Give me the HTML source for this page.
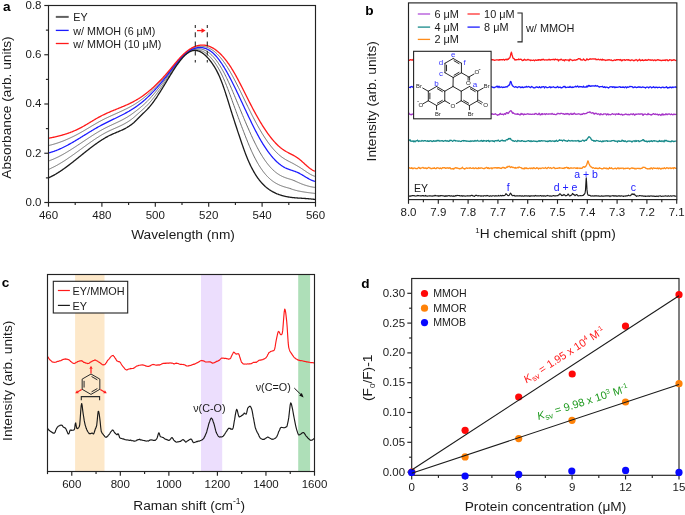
<!DOCTYPE html>
<html><head><meta charset="utf-8"><style>
html,body{margin:0;padding:0;background:#fff;width:685px;height:515px;overflow:hidden;}
svg{display:block;font-family:"Liberation Sans",sans-serif;will-change:transform;}
</style></head><body>
<svg width="685" height="515" viewBox="0 0 685 515">
<rect x="0" y="0" width="685" height="515" fill="#fff"/>
<path d="M48,169.73 L48.33,169.59 L48.67,169.44 L49,169.28 L49.33,169.13 L49.67,168.97 L50,168.8 L50.33,168.63 L50.67,168.46 L51,168.29 L51.33,168.11 L51.67,167.93 L52.17,167.71 L52.67,167.48 L53.17,167.25 L53.5,167.05 L54,166.81 L54.5,166.56 L55,166.31 L55.5,166.06 L55.83,165.85 L56.33,165.59 L56.83,165.32 L57.33,165.05 L57.83,164.78 L58.17,164.56 L58.67,164.28 L59.17,164 L59.67,163.71 L60.17,163.42 L60.67,163.12 L61.17,162.82 L61.5,162.59 L62,162.28 L62.5,161.97 L63,161.66 L63.5,161.35 L64,161.03 L64.5,160.72 L65,160.39 L65.5,160.07 L66,159.74 L66.5,159.41 L67,159.08 L67.33,158.82 L67.83,158.49 L68.33,158.15 L68.83,157.81 L69.33,157.46 L69.83,157.12 L70.33,156.77 L70.83,156.42 L71.33,156.07 L71.83,155.72 L72.33,155.37 L72.83,155.01 L73.33,154.66 L73.83,154.3 L74.33,153.94 L74.83,153.58 L75.33,153.22 L75.83,152.86 L76.33,152.5 L76.83,152.13 L77.33,151.77 L77.83,151.4 L78.33,151.04 L78.83,150.67 L79.33,150.31 L79.83,149.94 L80.33,149.57 L80.83,149.21 L81.5,148.74 L82,148.37 L82.5,148 L83,147.64 L83.5,147.27 L84,146.91 L84.5,146.54 L85,146.17 L85.5,145.81 L86,145.45 L86.5,145.08 L87,144.72 L87.5,144.36 L88,144 L88.5,143.64 L89,143.29 L89.5,142.93 L90,142.58 L90.67,142.12 L91.17,141.77 L91.67,141.42 L92.17,141.07 L92.67,140.72 L93.17,140.38 L93.67,140.04 L94.17,139.7 L94.67,139.36 L95.17,139.03 L95.67,138.69 L96.17,138.36 L96.67,138.04 L97.17,137.71 L97.83,137.29 L98.33,136.97 L98.83,136.65 L99.33,136.34 L99.83,136.03 L100.33,135.72 L100.83,135.42 L101.33,135.12 L101.83,134.82 L102.33,134.53 L102.83,134.24 L103.5,133.86 L104,133.58 L104.5,133.31 L105,133.03 L105.5,132.76 L106,132.5 L106.5,132.24 L107,131.98 L107.5,131.72 L108,131.48 L108.5,131.23 L109,130.99 L109.5,130.75 L110,130.52 L110.5,130.28 L111,130.05 L111.5,129.83 L112,129.6 L112.5,129.38 L113,129.15 L113.5,128.93 L114,128.71 L114.5,128.49 L115,128.27 L115.5,128.05 L116,127.83 L116.5,127.61 L117,127.39 L117.5,127.17 L118,126.94 L118.5,126.71 L119,126.49 L119.5,126.26 L120,126.02 L120.5,125.79 L121,125.55 L121.5,125.3 L122,125.06 L122.5,124.81 L123,124.55 L123.5,124.29 L124,124.03 L124.5,123.76 L125,123.48 L125.5,123.2 L126,122.92 L126.5,122.62 L127,122.32 L127.5,122.02 L128,121.7 L128.5,121.38 L129,121.05 L129.5,120.71 L130,120.37 L130.5,120.01 L131,119.65 L131.5,119.28 L132,118.89 L132.5,118.5 L133,118.1 L133.5,117.68 L134,117.26 L134.5,116.83 L135,116.4 L135.5,115.95 L136,115.51 L136.5,115.06 L137.17,114.51 L137.67,114.06 L138.17,113.61 L138.67,113.16 L139.17,112.72 L139.67,112.28 L140.17,111.84 L140.67,111.4 L141.17,110.95 L141.67,110.51 L142.17,110.06 L142.67,109.61 L143.17,109.16 L143.67,108.7 L144.17,108.24 L144.67,107.77 L145.17,107.29 L145.67,106.8 L146.17,106.31 L146.67,105.81 L147.17,105.29 L147.67,104.77 L148.17,104.23 L148.67,103.69 L149.17,103.13 L149.67,102.56 L150.17,101.98 L150.83,101.23 L151.33,100.63 L151.83,100.02 L152.33,99.4 L152.83,98.77 L153.33,98.13 L153.83,97.48 L154.5,96.66 L155,95.99 L155.5,95.32 L156,94.64 L156.5,93.96 L157.17,93.09 L157.67,92.39 L158.17,91.68 L158.67,90.97 L159.17,90.26 L159.83,89.35 L160.33,88.62 L160.83,87.89 L161.33,87.16 L161.83,86.42 L162.5,85.48 L163,84.74 L163.5,83.99 L164,83.24 L164.5,82.49 L165.17,81.53 L165.67,80.77 L166.17,80.02 L166.67,79.26 L167.17,78.5 L167.83,77.53 L168.33,76.78 L168.83,76.02 L169.33,75.26 L169.83,74.51 L170.33,73.75 L170.83,73 L171.5,72.04 L172,71.29 L172.5,70.55 L173,69.82 L173.5,69.09 L174,68.36 L174.5,67.64 L175,66.93 L175.67,66.01 L176.17,65.32 L176.67,64.63 L177.17,63.95 L177.67,63.28 L178.17,62.62 L178.67,61.97 L179.17,61.33 L179.67,60.71 L180.17,60.09 L180.67,59.49 L181.17,58.91 L181.67,58.33 L182.33,57.6 L182.83,57.06 L183.33,56.53 L183.83,56.03 L184.33,55.54 L184.83,55.06 L185.33,54.61 L185.83,54.17 L186.33,53.75 L186.83,53.35 L187.33,52.97 L187.83,52.61 L188.33,52.26 L188.83,51.94 L189.33,51.64 L189.83,51.36 L190.33,51.1 L190.83,50.87 L191.33,50.65 L191.83,50.46 L192.33,50.29 L192.83,50.14 L193.33,50.02 L193.83,49.91 L194.33,49.83 L194.83,49.77 L195.33,49.73 L195.83,49.71 L196.33,49.71 L196.83,49.73 L197.33,49.77 L197.83,49.84 L198.33,49.92 L198.83,50.02 L199.5,50.14 L200,50.28 L200.5,50.45 L201.17,50.65 L201.67,50.86 L202.33,51.12 L202.83,51.38 L203.5,51.69 L204.17,52.05 L204.67,52.37 L205.33,52.79 L206,53.24 L206.5,53.63 L207.17,54.14 L207.83,54.69 L208.33,55.15 L209,55.76 L209.5,56.27 L210.17,56.94 L210.67,57.49 L211.33,58.22 L211.83,58.82 L212.33,59.42 L212.83,60.05 L213.5,60.9 L214,61.56 L214.5,62.25 L215,62.96 L215.67,63.92 L216.17,64.68 L216.67,65.45 L217.17,66.25 L217.67,67.08 L218.33,68.18 L218.83,69.06 L219.33,69.96 L219.83,70.89 L220.33,71.84 L221,73.11 L221.5,74.12 L222,75.16 L222.5,76.23 L223.17,77.64 L223.67,78.77 L224.17,79.94 L224.83,81.45 L225.33,82.67 L225.83,83.92 L226.5,85.52 L227,86.82 L227.67,88.47 L228.17,89.81 L228.67,91.17 L229.33,92.89 L229.83,94.29 L230.5,96.04 L231,97.45 L231.67,99.23 L232.17,100.66 L232.67,102.09 L233.33,103.88 L233.83,105.31 L234.5,107.09 L235,108.52 L235.67,110.29 L236.17,111.71 L236.67,113.11 L237.33,114.87 L237.83,116.27 L238.33,117.66 L239,119.4 L239.5,120.78 L240,122.15 L240.67,123.87 L241.17,125.23 L241.67,126.59 L242.33,128.28 L242.83,129.62 L243.5,131.3 L244,132.63 L244.5,133.95 L245.17,135.59 L245.67,136.9 L246.17,138.2 L246.83,139.81 L247.33,141.09 L247.83,142.36 L248.5,143.92 L249,145.16 L249.5,146.38 L250.17,147.87 L250.67,149.05 L251.17,150.21 L251.67,151.35 L252.33,152.72 L252.83,153.81 L253.33,154.87 L253.83,155.91 L254.33,156.93 L255,158.17 L255.5,159.14 L256,160.08 L256.5,161.01 L257,161.92 L257.5,162.8 L258,163.67 L258.5,164.51 L259,165.34 L259.5,166.14 L260,166.92 L260.5,167.69 L261,168.43 L261.5,169.16 L262,169.87 L262.5,170.56 L263,171.23 L263.33,171.71 L263.83,172.35 L264.33,172.98 L264.83,173.58 L265.33,174.17 L265.67,174.59 L266.17,175.15 L266.67,175.69 L267.17,176.22 L267.5,176.59 L268,177.09 L268.5,177.57 L268.83,177.91 L269.33,178.37 L269.83,178.81 L270.17,179.12 L270.67,179.54 L271.17,179.95 L271.5,180.23 L272,180.61 L272.33,180.87 L272.83,181.23 L273.33,181.58 L273.67,181.82 L274.17,182.15 L274.5,182.37 L275,182.68 L275.33,182.89 L275.83,183.18 L276.17,183.37 L276.67,183.65 L277,183.83 L277.5,184.09 L277.83,184.26 L278.33,184.51 L278.67,184.67 L279.17,184.9 L279.5,185.05 L280,185.26 L280.5,185.47 L280.83,185.61 L281.33,185.81 L281.67,185.93 L282.17,186.12 L282.67,186.3 L283,186.41 L283.5,186.58 L284,186.74 L284.33,186.85 L284.83,187 L285.33,187.15 L285.83,187.29 L286.33,187.44 L286.83,187.57 L287.33,187.71 L287.83,187.84 L288.5,188.03 L289.17,188.22 L289.83,188.42 L291,188.87 L291.67,189.1 L292.33,189.35 L292.83,189.5 L293.33,189.65 L293.83,189.8 L294.33,189.95 L294.83,190.09 L295.33,190.24 L295.83,190.38 L296.17,190.42 L296.67,190.56 L297.17,190.7 L297.67,190.84 L298,190.87 L298.5,191 L299,191.13 L299.33,191.16 L299.83,191.28 L300.17,191.31 L300.67,191.43 L301.17,191.55 L301.5,191.57 L302,191.69 L302.33,191.71 L302.83,191.82 L303.17,191.84 L303.67,191.95 L304.17,192.05 L304.5,192.07 L305,192.17 L305.33,192.19 L305.83,192.29 L306.17,192.31 L306.67,192.4 L307,192.43 L307.5,192.52 L307.83,192.54 L308.33,192.63 L308.67,192.65 L309.17,192.73 L309.5,192.76 L309.83,192.78 L310.33,192.87 L310.67,192.89 L311.17,192.97 L311.5,193.01 L312,193.08 L312.33,193.12 L312.67,193.15 L313,193.19 L313.33,193.23 L313.67,193.27 L314,193.32 L314.33,193.36 L314.67,193.41 L315,193.46" fill="none" stroke="#6a6a6a" stroke-width="1.0" stroke-linejoin="round" />
<path d="M48,161.39 L48.17,161.32 L48.33,161.25 L48.5,161.17 L48.67,161.09 L48.83,161.01 L49,160.93 L49.17,160.85 L49.33,160.76 L49.5,160.67 L49.67,160.58 L49.83,160.49 L50.33,160.32 L50.83,160.15 L51.33,159.97 L51.5,159.87 L52,159.68 L52.5,159.49 L53,159.29 L53.5,159.09 L53.67,158.99 L54.17,158.78 L54.67,158.57 L55.17,158.35 L55.67,158.13 L55.83,158.02 L56.33,157.79 L56.83,157.56 L57.33,157.33 L57.83,157.09 L58.33,156.85 L58.83,156.6 L59,156.48 L59.5,156.23 L60,155.98 L60.5,155.72 L61,155.46 L61.5,155.2 L62,154.93 L62.5,154.66 L63,154.38 L63.5,154.1 L64,153.82 L64.5,153.54 L64.67,153.41 L65.17,153.12 L65.67,152.83 L66.17,152.54 L66.67,152.25 L67.17,151.95 L67.67,151.65 L68.17,151.35 L68.67,151.04 L69.17,150.74 L69.67,150.43 L70.17,150.12 L70.67,149.8 L71.17,149.49 L71.67,149.17 L72.17,148.85 L72.67,148.53 L73.17,148.21 L73.67,147.89 L74.17,147.57 L74.67,147.24 L75.17,146.91 L75.67,146.59 L76.17,146.26 L76.67,145.93 L77.17,145.6 L77.67,145.26 L78.17,144.93 L79,144.4 L79.5,144.07 L80,143.73 L80.5,143.4 L81,143.06 L81.5,142.72 L82,142.39 L82.5,142.05 L83,141.72 L83.5,141.38 L84,141.05 L84.5,140.71 L85,140.38 L85.5,140.04 L86,139.71 L86.5,139.37 L87,139.04 L87.5,138.71 L88.33,138.17 L88.83,137.84 L89.33,137.51 L89.83,137.19 L90.33,136.86 L90.83,136.53 L91.33,136.21 L91.83,135.89 L92.33,135.57 L92.83,135.25 L93.33,134.93 L93.83,134.61 L94.33,134.3 L94.83,133.99 L95.67,133.48 L96.17,133.17 L96.67,132.86 L97.17,132.56 L97.67,132.26 L98.17,131.96 L98.67,131.67 L99.17,131.37 L99.67,131.08 L100.17,130.8 L100.67,130.51 L101.5,130.05 L102,129.77 L102.5,129.49 L103,129.22 L103.5,128.96 L104,128.69 L104.5,128.43 L105,128.17 L105.5,127.91 L106,127.66 L106.5,127.41 L107,127.16 L107.5,126.92 L108,126.67 L108.5,126.43 L109,126.19 L109.5,125.96 L110,125.72 L110.5,125.49 L111,125.25 L111.5,125.02 L112,124.79 L112.5,124.56 L113,124.32 L113.5,124.09 L114,123.86 L114.5,123.63 L115,123.4 L115.5,123.17 L116,122.94 L116.5,122.7 L117,122.47 L117.5,122.23 L118,121.99 L118.5,121.75 L119,121.51 L119.5,121.27 L120,121.02 L120.5,120.78 L121,120.52 L121.5,120.27 L122,120.01 L122.5,119.75 L123,119.49 L123.5,119.22 L124,118.95 L124.5,118.68 L125,118.4 L125.5,118.12 L126,117.83 L126.5,117.54 L127,117.24 L127.5,116.94 L128,116.63 L128.5,116.31 L129,115.99 L129.5,115.67 L130,115.34 L130.5,115 L131,114.65 L131.5,114.3 L132,113.94 L132.5,113.58 L133,113.21 L133.5,112.83 L134,112.46 L134.5,112.08 L135.33,111.48 L135.83,111.09 L136.33,110.7 L136.83,110.31 L137.33,109.92 L137.83,109.53 L138.33,109.13 L138.83,108.74 L139.33,108.34 L139.83,107.93 L140.33,107.52 L140.83,107.11 L141.33,106.69 L141.83,106.27 L142.33,105.84 L142.83,105.41 L143.33,104.97 L143.83,104.52 L144.33,104.07 L144.83,103.61 L145.33,103.14 L145.83,102.66 L146.33,102.17 L146.83,101.68 L147.33,101.18 L147.83,100.67 L148.33,100.15 L149.17,99.31 L149.67,98.77 L150.17,98.23 L150.67,97.67 L151.17,97.11 L151.67,96.55 L152.17,95.98 L153,95.06 L153.5,94.47 L154,93.87 L154.5,93.27 L155,92.67 L155.83,91.7 L156.33,91.08 L156.83,90.45 L157.33,89.82 L157.83,89.19 L158.67,88.17 L159.17,87.53 L159.67,86.88 L160.17,86.22 L160.67,85.56 L161.5,84.51 L162,83.84 L162.5,83.17 L163,82.49 L163.5,81.82 L164.33,80.73 L164.83,80.04 L165.33,79.36 L165.83,78.67 L166.33,77.97 L167.17,76.86 L167.67,76.16 L168.17,75.46 L168.67,74.76 L169.17,74.06 L169.67,73.36 L170.17,72.66 L171,71.52 L171.5,70.82 L172,70.13 L172.5,69.43 L173,68.74 L173.5,68.05 L174,67.37 L174.5,66.69 L175.33,65.59 L175.83,64.92 L176.33,64.26 L176.83,63.61 L177.33,62.97 L177.83,62.33 L178.33,61.71 L178.83,61.09 L179.33,60.48 L179.83,59.89 L180.33,59.3 L180.83,58.73 L181.33,58.17 L182.17,57.28 L182.67,56.75 L183.17,56.24 L183.67,55.74 L184.17,55.26 L184.67,54.8 L185.17,54.35 L185.67,53.92 L186.17,53.5 L186.67,53.1 L187.17,52.72 L187.67,52.36 L188.17,52.01 L188.67,51.68 L189.17,51.36 L189.67,51.07 L190.17,50.79 L190.67,50.53 L191.17,50.29 L191.67,50.06 L192.17,49.86 L192.67,49.67 L193.17,49.5 L193.67,49.35 L194.17,49.22 L194.67,49.1 L195.17,49.01 L195.67,48.93 L196.17,48.87 L196.67,48.82 L197.17,48.8 L197.67,48.79 L198.17,48.79 L198.67,48.82 L199.5,48.85 L200,48.92 L200.5,49 L201.33,49.13 L201.83,49.26 L202.67,49.47 L203.17,49.65 L204,49.93 L204.83,50.26 L205.33,50.51 L206.17,50.93 L207,51.39 L207.5,51.72 L208.33,52.27 L209.17,52.88 L209.67,53.28 L210.5,53.98 L211,54.43 L211.83,55.21 L212.33,55.72 L213.17,56.59 L213.67,57.15 L214.17,57.73 L214.67,58.33 L215.5,59.35 L216,60 L216.5,60.66 L217,61.34 L217.83,62.51 L218.33,63.24 L218.83,63.99 L219.33,64.76 L219.83,65.54 L220.67,66.87 L221.17,67.71 L221.67,68.57 L222.17,69.44 L222.67,70.34 L223.5,71.83 L224,72.77 L224.5,73.73 L225,74.72 L225.83,76.33 L226.33,77.36 L226.83,78.41 L227.67,80.12 L228.17,81.21 L228.67,82.32 L229.5,84.11 L230,85.26 L230.83,87.09 L231.33,88.27 L231.83,89.47 L232.67,91.36 L233.17,92.57 L234,94.5 L234.5,95.73 L235.33,97.68 L235.83,98.92 L236.33,100.17 L237.17,102.13 L237.67,103.38 L238.5,105.35 L239,106.6 L239.83,108.56 L240.33,109.8 L240.83,111.04 L241.67,112.99 L242.17,114.22 L242.67,115.45 L243.5,117.38 L244,118.6 L244.5,119.81 L245.33,121.72 L245.83,122.92 L246.33,124.11 L247.17,125.98 L247.67,127.16 L248.5,129.01 L249,130.17 L249.5,131.33 L250.33,133.12 L250.83,134.26 L251.33,135.39 L252.17,137.14 L252.67,138.24 L253.17,139.34 L254,141.01 L254.5,142.08 L255,143.12 L255.83,144.72 L256.33,145.73 L256.83,146.72 L257.33,147.7 L258.17,149.18 L258.67,150.12 L259.17,151.03 L259.67,151.93 L260.17,152.81 L261,154.15 L261.5,154.99 L262,155.81 L262.5,156.62 L263,157.4 L263.5,158.18 L264,158.93 L264.5,159.67 L265,160.39 L265.5,161.1 L266,161.79 L266.5,162.46 L267,163.12 L267.5,163.76 L268,164.39 L268.5,165 L269,165.6 L269.17,165.84 L269.67,166.41 L270.17,166.97 L270.67,167.52 L271.17,168.05 L271.33,168.26 L271.83,168.77 L272.33,169.26 L272.83,169.74 L273,169.92 L273.5,170.38 L274,170.83 L274.17,171 L274.67,171.42 L275.17,171.84 L275.33,171.99 L275.83,172.38 L276.33,172.76 L276.5,172.9 L277,173.27 L277.17,173.4 L277.67,173.74 L278.17,174.07 L278.33,174.19 L278.83,174.51 L279,174.62 L279.5,174.92 L279.67,175.02 L280.17,175.31 L280.33,175.4 L280.83,175.67 L281,175.76 L281.5,176.02 L281.67,176.1 L282.17,176.34 L282.33,176.42 L282.83,176.65 L283,176.73 L283.5,176.94 L284,177.15 L284.17,177.22 L284.67,177.42 L284.83,177.48 L285.33,177.67 L285.83,177.85 L286,177.9 L286.5,178.08 L287,178.25 L287.17,178.3 L287.67,178.46 L288.17,178.62 L288.67,178.77 L289.17,178.92 L289.67,179.08 L290.17,179.23 L290.67,179.38 L291.5,179.64 L292.33,179.92 L293.17,180.22 L295,181.01 L295.83,181.39 L296.67,181.79 L297.17,182.01 L297.67,182.23 L298.17,182.45 L298.67,182.68 L299.17,182.9 L299.67,183.12 L300.17,183.35 L300.33,183.37 L300.83,183.59 L301.33,183.81 L301.83,184.03 L302,184.04 L302.5,184.26 L303,184.47 L303.17,184.48 L303.67,184.69 L303.83,184.71 L304.33,184.91 L304.83,185.11 L305,185.12 L305.5,185.31 L305.67,185.32 L306.17,185.51 L306.33,185.52 L306.83,185.71 L307.33,185.88 L307.5,185.89 L308,186.06 L308.17,186.07 L308.67,186.23 L308.83,186.24 L309.33,186.4 L309.5,186.41 L310,186.56 L310.17,186.57 L310.67,186.71 L310.83,186.72 L311.33,186.85 L311.5,186.86 L311.67,186.87 L312.17,187 L312.33,187.01 L312.83,187.12 L313,187.14 L313.5,187.24 L313.67,187.26 L313.83,187.28 L314,187.3 L314.17,187.32 L314.33,187.34 L314.5,187.36 L314.67,187.38 L314.83,187.41 L315,187.43" fill="none" stroke="#6a6a6a" stroke-width="1.0" stroke-linejoin="round" />
<path d="M48,145.7 L48.25,145.64 L48.5,145.58 L48.75,145.51 L49,145.45 L49.25,145.38 L49.75,145.26 L50.25,145.14 L50.75,145.01 L51.25,144.88 L51.75,144.75 L52.25,144.62 L52.5,144.53 L53,144.39 L53.5,144.25 L54,144.11 L54.5,143.96 L55,143.81 L55.5,143.66 L56,143.5 L56.5,143.34 L57,143.18 L57.5,143.02 L58,142.85 L58.5,142.68 L59,142.51 L59.5,142.33 L60,142.15 L60.5,141.97 L61,141.79 L61.5,141.6 L62,141.42 L62.5,141.22 L63,141.03 L63.5,140.83 L64,140.63 L64.5,140.43 L65,140.23 L65.5,140.02 L65.75,139.89 L66.25,139.68 L66.75,139.46 L67.25,139.25 L67.75,139.03 L68.25,138.81 L68.75,138.59 L69.25,138.36 L69.75,138.13 L70.25,137.9 L70.75,137.67 L71.25,137.43 L71.75,137.2 L72.25,136.96 L72.75,136.71 L73.25,136.47 L73.75,136.22 L74.25,135.97 L74.75,135.72 L75.25,135.47 L75.75,135.21 L76.25,134.95 L76.75,134.69 L77.25,134.43 L77.75,134.16 L78.25,133.89 L78.75,133.62 L79.25,133.35 L79.75,133.08 L80,132.92 L80.5,132.65 L81,132.37 L81.5,132.09 L82,131.8 L82.5,131.52 L83,131.23 L83.5,130.94 L84,130.65 L84.5,130.36 L85,130.07 L85.5,129.77 L86,129.48 L86.5,129.18 L87,128.88 L87.5,128.58 L88,128.28 L88.5,127.98 L89,127.68 L89.5,127.38 L90,127.08 L90.5,126.78 L91,126.48 L91.5,126.18 L92,125.88 L92.5,125.58 L93,125.29 L93.5,124.99 L94,124.69 L94.5,124.4 L95,124.11 L95.5,123.81 L96,123.52 L96.5,123.24 L97,122.95 L97.5,122.66 L98,122.38 L98.5,122.1 L99,121.82 L99.5,121.55 L100,121.28 L100.5,121 L101,120.74 L101.5,120.47 L102,120.21 L102.5,119.95 L103,119.69 L103.5,119.44 L104.25,119.06 L104.75,118.81 L105.25,118.56 L105.75,118.32 L106.25,118.08 L106.75,117.84 L107.25,117.6 L107.75,117.36 L108.25,117.13 L108.75,116.89 L109.25,116.66 L109.75,116.43 L110.25,116.2 L111,115.86 L111.5,115.63 L112,115.41 L112.5,115.18 L113,114.96 L113.5,114.73 L114,114.51 L114.5,114.28 L115,114.06 L115.5,113.84 L116,113.61 L116.5,113.39 L117,113.16 L117.5,112.94 L118,112.71 L118.5,112.49 L119,112.26 L119.5,112.03 L120,111.81 L120.5,111.58 L121,111.35 L121.5,111.12 L122,110.89 L122.5,110.65 L123,110.42 L123.5,110.18 L124,109.94 L124.75,109.59 L125.25,109.35 L125.75,109.1 L126.25,108.86 L126.75,108.61 L127.25,108.35 L127.75,108.1 L128.25,107.84 L128.75,107.58 L129.25,107.32 L129.75,107.05 L130.25,106.78 L130.75,106.51 L131.25,106.23 L131.75,105.95 L132.25,105.66 L132.75,105.38 L133.25,105.08 L133.75,104.79 L134.25,104.49 L134.75,104.18 L135.25,103.88 L135.75,103.56 L136.25,103.25 L136.75,102.92 L137.25,102.6 L137.75,102.27 L138.25,101.93 L138.75,101.59 L139.25,101.24 L139.75,100.89 L140.25,100.53 L140.75,100.17 L141.25,99.8 L141.75,99.43 L142.25,99.05 L142.75,98.66 L143.25,98.27 L143.75,97.88 L144.25,97.48 L144.75,97.07 L145.25,96.66 L145.75,96.25 L146.25,95.83 L146.75,95.4 L147.25,94.97 L147.75,94.53 L148.25,94.09 L148.75,93.64 L149.5,92.99 L150,92.53 L150.5,92.07 L151,91.6 L151.5,91.13 L152,90.65 L152.5,90.17 L153,89.68 L153.5,89.19 L154,88.69 L154.5,88.19 L155,87.69 L155.5,87.17 L156,86.66 L156.5,86.14 L157,85.62 L157.5,85.09 L158.25,84.31 L158.75,83.77 L159.25,83.23 L159.75,82.68 L160.25,82.13 L160.75,81.57 L161.25,81.01 L161.75,80.45 L162.25,79.88 L162.75,79.31 L163.25,78.73 L163.75,78.15 L164.25,77.56 L164.75,76.97 L165.25,76.38 L166,75.5 L166.5,74.9 L167,74.29 L167.5,73.68 L168,73.07 L168.5,72.45 L169,71.83 L169.5,71.21 L170,70.58 L170.5,69.95 L171,69.33 L171.5,68.7 L172,68.07 L172.5,67.44 L173,66.81 L173.5,66.19 L174,65.57 L174.5,64.95 L175,64.33 L175.5,63.71 L176.25,62.81 L176.75,62.21 L177.25,61.61 L177.75,61.02 L178.25,60.44 L178.75,59.86 L179.25,59.29 L179.75,58.73 L180.25,58.18 L180.75,57.64 L181.25,57.11 L181.75,56.59 L182.25,56.08 L182.75,55.58 L183.25,55.09 L183.75,54.62 L184.25,54.16 L184.75,53.71 L185.25,53.27 L185.75,52.85 L186.25,52.44 L186.75,52.04 L187.25,51.66 L187.75,51.29 L188.25,50.93 L188.75,50.59 L189.25,50.26 L189.75,49.94 L190.25,49.64 L190.75,49.35 L191.25,49.07 L191.75,48.8 L192.25,48.55 L192.75,48.32 L193.25,48.09 L193.75,47.88 L194.25,47.68 L194.75,47.5 L195.25,47.33 L195.75,47.17 L196.25,47.03 L196.75,46.9 L197.25,46.79 L197.75,46.69 L198.25,46.6 L198.75,46.52 L199.25,46.46 L199.75,46.42 L200.25,46.38 L201,46.34 L201.5,46.35 L202,46.36 L202.5,46.39 L203,46.44 L203.5,46.5 L204.25,46.6 L204.75,46.7 L205.25,46.81 L205.75,46.94 L206.25,47.08 L207,47.31 L207.5,47.49 L208,47.68 L208.5,47.89 L209.25,48.22 L209.75,48.47 L210.25,48.74 L210.75,49.02 L211.5,49.45 L212,49.77 L212.5,50.11 L213,50.46 L213.75,51 L214.25,51.39 L214.75,51.8 L215.25,52.23 L215.75,52.67 L216.5,53.34 L217,53.82 L217.5,54.32 L218,54.84 L218.75,55.62 L219.25,56.17 L219.75,56.74 L220.25,57.33 L220.75,57.93 L221.5,58.83 L222,59.47 L222.5,60.12 L223,60.79 L223.5,61.47 L224.25,62.49 L224.75,63.21 L225.25,63.94 L225.75,64.69 L226.25,65.45 L226.75,66.22 L227.5,67.38 L228,68.19 L228.5,69.01 L229,69.84 L229.5,70.68 L230,71.54 L230.5,72.41 L231,73.29 L231.75,74.61 L232.25,75.52 L232.75,76.43 L233.25,77.36 L233.75,78.3 L234.25,79.24 L234.75,80.19 L235.25,81.15 L235.75,82.12 L236.25,83.1 L236.75,84.08 L237.25,85.07 L237.75,86.06 L238.5,87.55 L239,88.56 L239.5,89.57 L240,90.58 L240.5,91.6 L241,92.62 L241.5,93.65 L242,94.68 L242.5,95.71 L243,96.74 L243.5,97.77 L244,98.8 L244.5,99.83 L245,100.86 L245.5,101.9 L246,102.93 L246.5,103.96 L247,104.98 L247.75,106.5 L248.25,107.52 L248.75,108.53 L249.25,109.55 L249.75,110.55 L250.25,111.56 L250.75,112.56 L251.25,113.55 L251.75,114.54 L252.25,115.53 L252.75,116.5 L253.25,117.48 L254,118.88 L254.5,119.84 L255,120.79 L255.5,121.73 L256,122.66 L256.5,123.59 L257,124.51 L257.5,125.42 L258,126.33 L258.5,127.22 L259.25,128.51 L259.75,129.38 L260.25,130.24 L260.75,131.1 L261.25,131.95 L261.75,132.78 L262.25,133.61 L262.75,134.43 L263.25,135.23 L264,136.38 L264.5,137.16 L265,137.93 L265.5,138.68 L266,139.43 L266.5,140.17 L267,140.89 L267.5,141.61 L268,142.31 L268.5,143 L269,143.68 L269.5,144.35 L270,145 L270.5,145.65 L271,146.28 L271.5,146.9 L272,147.51 L272.5,148.11 L273,148.7 L273.5,149.27 L274,149.83 L274.5,150.38 L275,150.92 L275.5,151.44 L276,151.96 L276.5,152.46 L277,152.94 L277.5,153.42 L278,153.88 L278.25,154.15 L278.75,154.59 L279.25,155.02 L279.75,155.44 L280.25,155.85 L280.75,156.24 L281,156.47 L281.5,156.85 L282,157.21 L282.5,157.57 L283,157.91 L283.5,158.25 L284,158.57 L284.5,158.89 L285,159.2 L285.25,159.37 L285.75,159.66 L286.25,159.95 L286.75,160.23 L287.25,160.5 L288,160.89 L288.5,161.15 L289,161.41 L289.5,161.66 L290,161.91 L290.75,162.3 L291.25,162.55 L291.75,162.79 L292.5,163.2 L293,163.46 L293.5,163.72 L294.25,164.17 L294.75,164.44 L295.25,164.72 L295.75,165.01 L296.25,165.3 L296.75,165.59 L297.25,165.89 L297.75,166.2 L298.25,166.51 L298.5,166.59 L299,166.91 L299.5,167.23 L300,167.55 L300.25,167.65 L300.75,167.98 L301.25,168.32 L301.75,168.66 L302,168.78 L302.5,169.13 L303,169.48 L303.5,169.83 L303.75,169.97 L304.25,170.33 L304.75,170.68 L305.25,171.03 L305.5,171.18 L306,171.53 L306.5,171.88 L307,172.22 L307.25,172.37 L307.75,172.7 L308.25,173.03 L308.5,173.18 L309,173.49 L309.5,173.79 L310,174.09 L310.25,174.23 L310.75,174.5 L311,174.64 L311.5,174.9 L312,175.14 L312.25,175.27 L312.75,175.49 L313,175.6 L313.5,175.8 L313.75,175.9 L314,175.99 L314.25,176.08 L314.5,176.16 L314.75,176.24 L315,176.3" fill="none" stroke="#6a6a6a" stroke-width="1.0" stroke-linejoin="round" />
<path d="M48,153.06 L48.5,152.94 L49,152.81 L49.5,152.69 L50,152.55 L50.5,152.41 L51,152.27 L51.5,152.12 L52,151.97 L52.5,151.81 L53,151.65 L53.5,151.48 L54,151.31 L54.5,151.13 L55,150.95 L55.5,150.77 L56,150.58 L56.5,150.38 L57,150.19 L57.5,149.98 L58,149.78 L58.5,149.57 L59,149.36 L59.5,149.14 L60,148.92 L60.5,148.69 L61,148.47 L61.5,148.23 L62,148 L62.5,147.76 L63,147.52 L63.5,147.28 L64,147.03 L64.5,146.78 L65,146.52 L65.5,146.27 L66,146.01 L66.5,145.75 L67,145.48 L67.5,145.22 L68,144.95 L68.5,144.67 L69,144.4 L69.5,144.12 L70,143.85 L70.5,143.57 L71,143.28 L71.5,143 L72,142.71 L72.5,142.42 L73,142.13 L73.5,141.84 L74,141.55 L74.5,141.25 L75,140.96 L75.5,140.66 L76,140.36 L76.5,140.06 L77,139.76 L77.5,139.46 L78,139.15 L78.5,138.85 L79,138.54 L79.5,138.24 L80,137.93 L80.5,137.62 L81,137.32 L81.5,137.01 L82,136.7 L82.5,136.39 L83,136.08 L83.5,135.77 L84,135.46 L84.5,135.15 L85,134.85 L85.5,134.54 L86,134.23 L86.5,133.92 L87,133.61 L87.5,133.3 L88,132.99 L88.5,132.69 L89,132.38 L89.5,132.08 L90,131.77 L90.5,131.47 L91,131.16 L91.5,130.86 L92,130.56 L92.5,130.26 L93,129.96 L93.5,129.67 L94,129.37 L94.5,129.08 L95,128.78 L95.5,128.49 L96,128.2 L96.5,127.91 L97,127.63 L97.5,127.34 L98,127.06 L98.5,126.78 L99,126.5 L99.5,126.23 L100,125.95 L100.5,125.68 L101,125.42 L101.5,125.15 L102,124.88 L102.5,124.62 L103,124.36 L103.5,124.1 L104,123.84 L104.5,123.59 L105,123.34 L105.5,123.08 L106,122.83 L106.5,122.58 L107,122.33 L107.5,122.09 L108,121.84 L108.5,121.59 L109,121.35 L109.5,121.11 L110,120.86 L110.5,120.62 L111,120.38 L111.5,120.14 L112,119.89 L112.5,119.65 L113,119.41 L113.5,119.17 L114,118.93 L114.5,118.69 L115,118.45 L115.5,118.21 L116,117.96 L116.5,117.72 L117,117.48 L117.5,117.23 L118,116.99 L118.5,116.74 L119,116.5 L119.5,116.25 L120,116 L120.5,115.75 L121,115.5 L121.5,115.25 L122,114.99 L122.5,114.74 L123,114.48 L123.5,114.22 L124,113.96 L124.5,113.69 L125,113.43 L125.5,113.16 L126,112.89 L126.5,112.62 L127,112.34 L127.5,112.06 L128,111.78 L128.5,111.49 L129,111.21 L129.5,110.91 L130,110.62 L130.5,110.32 L131,110.02 L131.5,109.71 L132,109.4 L132.5,109.09 L133,108.77 L133.5,108.45 L134,108.13 L134.5,107.8 L135,107.46 L135.5,107.12 L136,106.78 L136.5,106.43 L137,106.08 L137.5,105.72 L138,105.35 L138.5,104.98 L139,104.61 L139.5,104.23 L140,103.84 L140.5,103.45 L141,103.05 L141.5,102.65 L142,102.24 L142.5,101.83 L143,101.41 L143.5,100.98 L144,100.55 L144.5,100.11 L145,99.67 L145.5,99.22 L146,98.77 L146.5,98.31 L147,97.85 L147.5,97.38 L148,96.91 L148.5,96.43 L149,95.95 L149.5,95.46 L150,94.97 L150.5,94.47 L151,93.96 L151.5,93.46 L152,92.94 L152.5,92.43 L153,91.9 L153.5,91.38 L154,90.85 L154.5,90.31 L155,89.77 L155.5,89.23 L156,88.68 L156.5,88.12 L157,87.56 L157.5,87 L158,86.43 L158.5,85.86 L159,85.29 L159.5,84.71 L160,84.12 L160.5,83.54 L161,82.95 L161.5,82.35 L162,81.75 L162.5,81.15 L163,80.54 L163.5,79.93 L164,79.31 L164.5,78.7 L165,78.07 L165.5,77.45 L166,76.82 L166.5,76.18 L167,75.55 L167.5,74.91 L168,74.26 L168.5,73.62 L169,72.97 L169.5,72.32 L170,71.66 L170.5,71.01 L171,70.35 L171.5,69.7 L172,69.04 L172.5,68.39 L173,67.74 L173.5,67.09 L174,66.44 L174.5,65.8 L175,65.16 L175.5,64.52 L176,63.9 L176.5,63.27 L177,62.65 L177.5,62.04 L178,61.44 L178.5,60.85 L179,60.26 L179.5,59.68 L180,59.11 L180.5,58.56 L181,58.01 L181.5,57.48 L182,56.95 L182.5,56.44 L183,55.94 L183.5,55.46 L184,54.99 L184.5,54.54 L185,54.1 L185.5,53.67 L186,53.26 L186.5,52.86 L187,52.47 L187.5,52.11 L188,51.75 L188.5,51.41 L189,51.08 L189.5,50.77 L190,50.47 L190.5,50.19 L191,49.92 L191.5,49.67 L192,49.43 L192.5,49.2 L193,48.99 L193.5,48.79 L194,48.61 L194.5,48.44 L195,48.29 L195.5,48.15 L196,48.02 L196.5,47.91 L197,47.82 L197.5,47.74 L198,47.67 L198.5,47.62 L199,47.58 L199.5,47.56 L200,47.55 L200.5,47.56 L201,47.58 L201.5,47.61 L202,47.66 L202.5,47.73 L203,47.82 L203.5,47.91 L204,48.03 L204.5,48.16 L205,48.31 L205.5,48.47 L206,48.65 L206.5,48.85 L207,49.06 L207.5,49.3 L208,49.55 L208.5,49.81 L209,50.1 L209.5,50.4 L210,50.72 L210.5,51.06 L211,51.42 L211.5,51.79 L212,52.19 L212.5,52.6 L213,53.03 L213.5,53.49 L214,53.96 L214.5,54.45 L215,54.96 L215.5,55.49 L216,56.04 L216.5,56.61 L217,57.2 L217.5,57.8 L218,58.43 L218.5,59.07 L219,59.72 L219.5,60.4 L220,61.09 L220.5,61.8 L221,62.52 L221.5,63.26 L222,64.01 L222.5,64.78 L223,65.56 L223.5,66.36 L224,67.17 L224.5,67.99 L225,68.83 L225.5,69.68 L226,70.54 L226.5,71.42 L227,72.3 L227.5,73.2 L228,74.1 L228.5,75.02 L229,75.95 L229.5,76.89 L230,77.84 L230.5,78.79 L231,79.76 L231.5,80.73 L232,81.71 L232.5,82.7 L233,83.7 L233.5,84.7 L234,85.72 L234.5,86.73 L235,87.76 L235.5,88.79 L236,89.82 L236.5,90.86 L237,91.91 L237.5,92.95 L238,94.01 L238.5,95.06 L239,96.12 L239.5,97.18 L240,98.25 L240.5,99.32 L241,100.39 L241.5,101.46 L242,102.53 L242.5,103.6 L243,104.67 L243.5,105.75 L244,106.82 L244.5,107.89 L245,108.97 L245.5,110.04 L246,111.11 L246.5,112.17 L247,113.24 L247.5,114.3 L248,115.36 L248.5,116.42 L249,117.47 L249.5,118.52 L250,119.56 L250.5,120.6 L251,121.63 L251.5,122.66 L252,123.69 L252.5,124.7 L253,125.71 L253.5,126.72 L254,127.71 L254.5,128.7 L255,129.68 L255.5,130.66 L256,131.62 L256.5,132.58 L257,133.53 L257.5,134.46 L258,135.39 L258.5,136.31 L259,137.21 L259.5,138.11 L260,138.99 L260.5,139.87 L261,140.73 L261.5,141.58 L262,142.41 L262.5,143.24 L263,144.05 L263.5,144.86 L264,145.65 L264.5,146.42 L265,147.19 L265.5,147.95 L266,148.69 L266.5,149.42 L267,150.14 L267.5,150.84 L268,151.54 L268.5,152.22 L269,152.89 L269.5,153.55 L270,154.19 L270.5,154.83 L271,155.45 L271.5,156.06 L272,156.65 L272.5,157.24 L273,157.81 L273.5,158.37 L274,158.91 L274.5,159.45 L275,159.97 L275.5,160.48 L276,160.97 L276.5,161.46 L277,161.93 L277.5,162.38 L278,162.83 L278.5,163.26 L279,163.68 L279.5,164.09 L280,164.48 L280.5,164.86 L281,165.23 L281.5,165.58 L282,165.92 L282.5,166.25 L283,166.57 L283.5,166.87 L284,167.16 L284.5,167.43 L285,167.7 L285.5,167.94 L286,168.18 L286.5,168.41 L287,168.62 L287.5,168.83 L288,169.03 L288.5,169.21 L289,169.4 L289.5,169.58 L290,169.75 L290.5,169.92 L291,170.08 L291.5,170.25 L292,170.41 L292.5,170.58 L293,170.74 L293.5,170.91 L294,171.08 L294.5,171.25 L295,171.43 L295.5,171.62 L296,171.81 L296.5,172.01 L297,172.22 L297.5,172.44 L298,172.67 L298.5,172.91 L299,173.16 L299.5,173.41 L300,173.68 L300.5,173.96 L301,174.24 L301.5,174.52 L302,174.81 L302.5,175.11 L303,175.41 L303.5,175.71 L304,176.01 L304.5,176.31 L305,176.62 L305.5,176.92 L306,177.22 L306.5,177.52 L307,177.81 L307.5,178.1 L308,178.39 L308.5,178.67 L309,178.94 L309.5,179.2 L310,179.46 L310.5,179.71 L311,179.95 L311.5,180.18 L312,180.39 L312.5,180.6 L313,180.79 L313.5,180.96 L314,181.12 L314.5,181.27 L315,181.4" fill="none" stroke="#1a1aff" stroke-width="1.25" stroke-linejoin="round" />
<path d="M48,178.07 L48.5,177.85 L49,177.63 L49.5,177.4 L50,177.16 L50.5,176.92 L51,176.68 L51.5,176.42 L52,176.17 L52.5,175.91 L53,175.64 L53.5,175.37 L54,175.09 L54.5,174.81 L55,174.52 L55.5,174.23 L56,173.94 L56.5,173.64 L57,173.34 L57.5,173.03 L58,172.72 L58.5,172.4 L59,172.08 L59.5,171.76 L60,171.43 L60.5,171.1 L61,170.76 L61.5,170.43 L62,170.09 L62.5,169.74 L63,169.39 L63.5,169.04 L64,168.69 L64.5,168.33 L65,167.97 L65.5,167.61 L66,167.24 L66.5,166.87 L67,166.5 L67.5,166.13 L68,165.76 L68.5,165.38 L69,165 L69.5,164.62 L70,164.23 L70.5,163.85 L71,163.46 L71.5,163.07 L72,162.68 L72.5,162.29 L73,161.9 L73.5,161.5 L74,161.11 L74.5,160.71 L75,160.31 L75.5,159.91 L76,159.51 L76.5,159.11 L77,158.71 L77.5,158.31 L78,157.91 L78.5,157.51 L79,157.1 L79.5,156.7 L80,156.3 L80.5,155.89 L81,155.49 L81.5,155.09 L82,154.69 L82.5,154.28 L83,153.88 L83.5,153.48 L84,153.08 L84.5,152.68 L85,152.28 L85.5,151.88 L86,151.48 L86.5,151.09 L87,150.69 L87.5,150.3 L88,149.9 L88.5,149.51 L89,149.12 L89.5,148.73 L90,148.35 L90.5,147.96 L91,147.58 L91.5,147.2 L92,146.82 L92.5,146.44 L93,146.07 L93.5,145.69 L94,145.32 L94.5,144.95 L95,144.59 L95.5,144.23 L96,143.87 L96.5,143.51 L97,143.16 L97.5,142.81 L98,142.46 L98.5,142.11 L99,141.77 L99.5,141.44 L100,141.1 L100.5,140.77 L101,140.44 L101.5,140.12 L102,139.8 L102.5,139.49 L103,139.18 L103.5,138.87 L104,138.57 L104.5,138.27 L105,137.97 L105.5,137.68 L106,137.4 L106.5,137.12 L107,136.84 L107.5,136.57 L108,136.3 L108.5,136.04 L109,135.79 L109.5,135.54 L110,135.29 L110.5,135.05 L111,134.82 L111.5,134.58 L112,134.36 L112.5,134.13 L113,133.91 L113.5,133.7 L114,133.48 L114.5,133.27 L115,133.06 L115.5,132.85 L116,132.64 L116.5,132.43 L117,132.22 L117.5,132.01 L118,131.8 L118.5,131.59 L119,131.38 L119.5,131.16 L120,130.95 L120.5,130.73 L121,130.51 L121.5,130.28 L122,130.05 L122.5,129.82 L123,129.58 L123.5,129.34 L124,129.09 L124.5,128.84 L125,128.58 L125.5,128.32 L126,128.04 L126.5,127.76 L127,127.48 L127.5,127.18 L128,126.88 L128.5,126.57 L129,126.25 L129.5,125.91 L130,125.57 L130.5,125.22 L131,124.86 L131.5,124.49 L132,124.11 L132.5,123.71 L133,123.3 L133.5,122.88 L134,122.45 L134.5,122 L135,121.54 L135.5,121.07 L136,120.58 L136.5,120.09 L137,119.58 L137.5,119.08 L138,118.56 L138.5,118.05 L139,117.53 L139.5,117.02 L140,116.52 L140.5,116.01 L141,115.52 L141.5,115.03 L142,114.54 L142.5,114.06 L143,113.57 L143.5,113.09 L144,112.61 L144.5,112.12 L145,111.63 L145.5,111.13 L146,110.63 L146.5,110.13 L147,109.61 L147.5,109.09 L148,108.55 L148.5,108.01 L149,107.45 L149.5,106.88 L150,106.3 L150.5,105.7 L151,105.08 L151.5,104.45 L152,103.81 L152.5,103.16 L153,102.49 L153.5,101.81 L154,101.12 L154.5,100.42 L155,99.71 L155.5,98.99 L156,98.26 L156.5,97.52 L157,96.77 L157.5,96.01 L158,95.25 L158.5,94.47 L159,93.7 L159.5,92.91 L160,92.12 L160.5,91.32 L161,90.52 L161.5,89.71 L162,88.9 L162.5,88.09 L163,87.27 L163.5,86.45 L164,85.63 L164.5,84.81 L165,83.98 L165.5,83.16 L166,82.33 L166.5,81.5 L167,80.68 L167.5,79.85 L168,79.03 L168.5,78.21 L169,77.39 L169.5,76.57 L170,75.76 L170.5,74.95 L171,74.15 L171.5,73.35 L172,72.55 L172.5,71.76 L173,70.98 L173.5,70.21 L174,69.44 L174.5,68.67 L175,67.92 L175.5,67.18 L176,66.44 L176.5,65.71 L177,64.99 L177.5,64.29 L178,63.59 L178.5,62.91 L179,62.24 L179.5,61.58 L180,60.93 L180.5,60.3 L181,59.68 L181.5,59.08 L182,58.49 L182.5,57.92 L183,57.37 L183.5,56.83 L184,56.31 L184.5,55.81 L185,55.33 L185.5,54.86 L186,54.42 L186.5,54 L187,53.6 L187.5,53.22 L188,52.86 L188.5,52.52 L189,52.21 L189.5,51.92 L190,51.66 L190.5,51.42 L191,51.21 L191.5,51.02 L192,50.86 L192.5,50.72 L193,50.61 L193.5,50.53 L194,50.47 L194.5,50.44 L195,50.43 L195.5,50.44 L196,50.48 L196.5,50.55 L197,50.64 L197.5,50.75 L198,50.88 L198.5,51.04 L199,51.22 L199.5,51.43 L200,51.65 L200.5,51.9 L201,52.17 L201.5,52.46 L202,52.77 L202.5,53.11 L203,53.46 L203.5,53.84 L204,54.23 L204.5,54.65 L205,55.08 L205.5,55.54 L206,56.01 L206.5,56.51 L207,57.02 L207.5,57.55 L208,58.1 L208.5,58.67 L209,59.25 L209.5,59.86 L210,60.48 L210.5,61.12 L211,61.77 L211.5,62.44 L212,63.13 L212.5,63.85 L213,64.58 L213.5,65.34 L214,66.11 L214.5,66.92 L215,67.75 L215.5,68.61 L216,69.49 L216.5,70.41 L217,71.36 L217.5,72.34 L218,73.35 L218.5,74.39 L219,75.48 L219.5,76.6 L220,77.75 L220.5,78.95 L221,80.18 L221.5,81.46 L222,82.77 L222.5,84.12 L223,85.51 L223.5,86.93 L224,88.37 L224.5,89.85 L225,91.35 L225.5,92.88 L226,94.43 L226.5,96 L227,97.58 L227.5,99.18 L228,100.78 L228.5,102.39 L229,104.01 L229.5,105.62 L230,107.23 L230.5,108.84 L231,110.44 L231.5,112.03 L232,113.61 L232.5,115.19 L233,116.75 L233.5,118.32 L234,119.87 L234.5,121.42 L235,122.96 L235.5,124.5 L236,126.03 L236.5,127.55 L237,129.07 L237.5,130.58 L238,132.09 L238.5,133.59 L239,135.08 L239.5,136.57 L240,138.06 L240.5,139.54 L241,141.02 L241.5,142.49 L242,143.95 L242.5,145.39 L243,146.83 L243.5,148.24 L244,149.64 L244.5,151.02 L245,152.37 L245.5,153.69 L246,154.99 L246.5,156.26 L247,157.5 L247.5,158.71 L248,159.89 L248.5,161.05 L249,162.18 L249.5,163.28 L250,164.36 L250.5,165.41 L251,166.43 L251.5,167.43 L252,168.4 L252.5,169.35 L253,170.28 L253.5,171.18 L254,172.06 L254.5,172.91 L255,173.75 L255.5,174.56 L256,175.35 L256.5,176.11 L257,176.86 L257.5,177.59 L258,178.29 L258.5,178.98 L259,179.64 L259.5,180.29 L260,180.92 L260.5,181.53 L261,182.12 L261.5,182.69 L262,183.25 L262.5,183.79 L263,184.31 L263.5,184.82 L264,185.31 L264.5,185.79 L265,186.25 L265.5,186.7 L266,187.13 L266.5,187.55 L267,187.95 L267.5,188.34 L268,188.72 L268.5,189.09 L269,189.45 L269.5,189.79 L270,190.12 L270.5,190.44 L271,190.75 L271.5,191.05 L272,191.34 L272.5,191.63 L273,191.9 L273.5,192.16 L274,192.42 L274.5,192.67 L275,192.91 L275.5,193.14 L276,193.37 L276.5,193.58 L277,193.8 L277.5,194 L278,194.2 L278.5,194.39 L279,194.57 L279.5,194.75 L280,194.92 L280.5,195.08 L281,195.24 L281.5,195.39 L282,195.54 L282.5,195.68 L283,195.82 L283.5,195.95 L284,196.07 L284.5,196.19 L285,196.31 L285.5,196.42 L286,196.52 L286.5,196.62 L287,196.72 L287.5,196.81 L288,196.9 L288.5,196.99 L289,197.07 L289.5,197.14 L290,197.22 L290.5,197.29 L291,197.35 L291.5,197.42 L292,197.48 L292.5,197.54 L293,197.59 L293.5,197.65 L294,197.7 L294.5,197.74 L295,197.79 L295.5,197.83 L296,197.88 L296.5,197.92 L297,197.95 L297.5,197.99 L298,198.03 L298.5,198.06 L299,198.1 L299.5,198.13 L300,198.16 L300.5,198.19 L301,198.22 L301.5,198.26 L302,198.29 L302.5,198.32 L303,198.35 L303.5,198.38 L304,198.41 L304.5,198.44 L305,198.48 L305.5,198.51 L306,198.54 L306.5,198.58 L307,198.62 L307.5,198.66 L308,198.7 L308.5,198.74 L309,198.78 L309.5,198.83 L310,198.87 L310.5,198.92 L311,198.97 L311.5,199.03 L312,199.09 L312.5,199.15 L313,199.21 L313.5,199.27 L314,199.34 L314.5,199.42 L315,199.49" fill="none" stroke="#1a1a1a" stroke-width="1.3" stroke-linejoin="round" />
<path d="M48,138.34 L48.5,138.24 L49,138.15 L49.5,138.05 L50,137.96 L50.5,137.86 L51,137.76 L51.5,137.65 L52,137.55 L52.5,137.45 L53,137.34 L53.5,137.24 L54,137.13 L54.5,137.02 L55,136.91 L55.5,136.79 L56,136.68 L56.5,136.56 L57,136.44 L57.5,136.32 L58,136.2 L58.5,136.07 L59,135.95 L59.5,135.82 L60,135.69 L60.5,135.56 L61,135.42 L61.5,135.28 L62,135.14 L62.5,135 L63,134.86 L63.5,134.71 L64,134.56 L64.5,134.41 L65,134.25 L65.5,134.1 L66,133.94 L66.5,133.77 L67,133.61 L67.5,133.44 L68,133.27 L68.5,133.09 L69,132.92 L69.5,132.74 L70,132.55 L70.5,132.37 L71,132.18 L71.5,131.98 L72,131.79 L72.5,131.59 L73,131.38 L73.5,131.18 L74,130.96 L74.5,130.75 L75,130.53 L75.5,130.31 L76,130.09 L76.5,129.86 L77,129.62 L77.5,129.39 L78,129.15 L78.5,128.9 L79,128.65 L79.5,128.4 L80,128.14 L80.5,127.88 L81,127.62 L81.5,127.35 L82,127.08 L82.5,126.8 L83,126.52 L83.5,126.24 L84,125.96 L84.5,125.67 L85,125.38 L85.5,125.09 L86,124.79 L86.5,124.5 L87,124.2 L87.5,123.9 L88,123.6 L88.5,123.3 L89,123 L89.5,122.7 L90,122.4 L90.5,122.09 L91,121.79 L91.5,121.49 L92,121.19 L92.5,120.89 L93,120.58 L93.5,120.28 L94,119.99 L94.5,119.69 L95,119.39 L95.5,119.1 L96,118.81 L96.5,118.52 L97,118.23 L97.5,117.95 L98,117.67 L98.5,117.39 L99,117.11 L99.5,116.84 L100,116.57 L100.5,116.31 L101,116.05 L101.5,115.79 L102,115.54 L102.5,115.29 L103,115.04 L103.5,114.8 L104,114.55 L104.5,114.32 L105,114.08 L105.5,113.85 L106,113.62 L106.5,113.39 L107,113.17 L107.5,112.94 L108,112.72 L108.5,112.5 L109,112.29 L109.5,112.07 L110,111.86 L110.5,111.64 L111,111.43 L111.5,111.22 L112,111.02 L112.5,110.81 L113,110.6 L113.5,110.4 L114,110.19 L114.5,109.99 L115,109.79 L115.5,109.58 L116,109.38 L116.5,109.18 L117,108.98 L117.5,108.77 L118,108.57 L118.5,108.37 L119,108.16 L119.5,107.96 L120,107.76 L120.5,107.55 L121,107.35 L121.5,107.14 L122,106.93 L122.5,106.72 L123,106.51 L123.5,106.3 L124,106.09 L124.5,105.87 L125,105.65 L125.5,105.44 L126,105.21 L126.5,104.99 L127,104.77 L127.5,104.54 L128,104.31 L128.5,104.08 L129,103.84 L129.5,103.61 L130,103.36 L130.5,103.12 L131,102.87 L131.5,102.62 L132,102.37 L132.5,102.12 L133,101.85 L133.5,101.59 L134,101.32 L134.5,101.05 L135,100.78 L135.5,100.5 L136,100.21 L136.5,99.92 L137,99.63 L137.5,99.33 L138,99.03 L138.5,98.73 L139,98.41 L139.5,98.1 L140,97.77 L140.5,97.45 L141,97.11 L141.5,96.78 L142,96.43 L142.5,96.09 L143,95.73 L143.5,95.37 L144,95.01 L144.5,94.64 L145,94.27 L145.5,93.89 L146,93.51 L146.5,93.12 L147,92.72 L147.5,92.32 L148,91.92 L148.5,91.51 L149,91.1 L149.5,90.68 L150,90.26 L150.5,89.83 L151,89.39 L151.5,88.96 L152,88.51 L152.5,88.07 L153,87.61 L153.5,87.16 L154,86.69 L154.5,86.23 L155,85.76 L155.5,85.28 L156,84.8 L156.5,84.32 L157,83.83 L157.5,83.33 L158,82.83 L158.5,82.33 L159,81.82 L159.5,81.31 L160,80.79 L160.5,80.27 L161,79.75 L161.5,79.22 L162,78.68 L162.5,78.14 L163,77.6 L163.5,77.05 L164,76.5 L164.5,75.94 L165,75.38 L165.5,74.82 L166,74.25 L166.5,73.68 L167,73.1 L167.5,72.52 L168,71.93 L168.5,71.34 L169,70.75 L169.5,70.15 L170,69.56 L170.5,68.95 L171,68.35 L171.5,67.75 L172,67.14 L172.5,66.54 L173,65.94 L173.5,65.33 L174,64.73 L174.5,64.13 L175,63.53 L175.5,62.94 L176,62.35 L176.5,61.76 L177,61.18 L177.5,60.6 L178,60.03 L178.5,59.46 L179,58.9 L179.5,58.35 L180,57.81 L180.5,57.27 L181,56.74 L181.5,56.22 L182,55.71 L182.5,55.21 L183,54.72 L183.5,54.24 L184,53.77 L184.5,53.32 L185,52.87 L185.5,52.44 L186,52.02 L186.5,51.61 L187,51.21 L187.5,50.83 L188,50.46 L188.5,50.09 L189,49.75 L189.5,49.41 L190,49.08 L190.5,48.77 L191,48.47 L191.5,48.18 L192,47.91 L192.5,47.64 L193,47.39 L193.5,47.15 L194,46.93 L194.5,46.71 L195,46.51 L195.5,46.32 L196,46.15 L196.5,45.99 L197,45.84 L197.5,45.7 L198,45.58 L198.5,45.47 L199,45.37 L199.5,45.28 L200,45.21 L200.5,45.15 L201,45.11 L201.5,45.08 L202,45.06 L202.5,45.06 L203,45.07 L203.5,45.09 L204,45.12 L204.5,45.17 L205,45.24 L205.5,45.32 L206,45.41 L206.5,45.51 L207,45.63 L207.5,45.76 L208,45.91 L208.5,46.07 L209,46.24 L209.5,46.43 L210,46.63 L210.5,46.85 L211,47.08 L211.5,47.32 L212,47.58 L212.5,47.85 L213,48.13 L213.5,48.43 L214,48.74 L214.5,49.06 L215,49.4 L215.5,49.75 L216,50.12 L216.5,50.5 L217,50.9 L217.5,51.3 L218,51.72 L218.5,52.16 L219,52.61 L219.5,53.07 L220,53.55 L220.5,54.03 L221,54.54 L221.5,55.05 L222,55.59 L222.5,56.13 L223,56.69 L223.5,57.26 L224,57.84 L224.5,58.44 L225,59.06 L225.5,59.68 L226,60.32 L226.5,60.98 L227,61.64 L227.5,62.32 L228,63.02 L228.5,63.72 L229,64.45 L229.5,65.18 L230,65.93 L230.5,66.69 L231,67.47 L231.5,68.26 L232,69.06 L232.5,69.88 L233,70.71 L233.5,71.55 L234,72.4 L234.5,73.27 L235,74.14 L235.5,75.03 L236,75.93 L236.5,76.83 L237,77.75 L237.5,78.67 L238,79.6 L238.5,80.54 L239,81.49 L239.5,82.44 L240,83.4 L240.5,84.37 L241,85.34 L241.5,86.31 L242,87.29 L242.5,88.28 L243,89.26 L243.5,90.25 L244,91.24 L244.5,92.24 L245,93.23 L245.5,94.23 L246,95.22 L246.5,96.22 L247,97.21 L247.5,98.21 L248,99.2 L248.5,100.19 L249,101.18 L249.5,102.17 L250,103.15 L250.5,104.12 L251,105.1 L251.5,106.07 L252,107.03 L252.5,107.99 L253,108.94 L253.5,109.88 L254,110.82 L254.5,111.75 L255,112.67 L255.5,113.58 L256,114.49 L256.5,115.39 L257,116.28 L257.5,117.17 L258,118.05 L258.5,118.91 L259,119.77 L259.5,120.63 L260,121.47 L260.5,122.31 L261,123.13 L261.5,123.95 L262,124.76 L262.5,125.56 L263,126.35 L263.5,127.14 L264,127.91 L264.5,128.68 L265,129.43 L265.5,130.18 L266,130.91 L266.5,131.64 L267,132.36 L267.5,133.06 L268,133.76 L268.5,134.45 L269,135.13 L269.5,135.79 L270,136.45 L270.5,137.1 L271,137.73 L271.5,138.36 L272,138.97 L272.5,139.57 L273,140.17 L273.5,140.75 L274,141.32 L274.5,141.88 L275,142.43 L275.5,142.96 L276,143.49 L276.5,144 L277,144.5 L277.5,144.99 L278,145.47 L278.5,145.94 L279,146.39 L279.5,146.83 L280,147.26 L280.5,147.68 L281,148.08 L281.5,148.47 L282,148.85 L282.5,149.22 L283,149.57 L283.5,149.91 L284,150.24 L284.5,150.56 L285,150.87 L285.5,151.16 L286,151.45 L286.5,151.74 L287,152.01 L287.5,152.28 L288,152.55 L288.5,152.81 L289,153.07 L289.5,153.33 L290,153.58 L290.5,153.84 L291,154.1 L291.5,154.35 L292,154.61 L292.5,154.87 L293,155.14 L293.5,155.41 L294,155.69 L294.5,155.97 L295,156.26 L295.5,156.56 L296,156.87 L296.5,157.19 L297,157.52 L297.5,157.86 L298,158.22 L298.5,158.59 L299,158.97 L299.5,159.36 L300,159.77 L300.5,160.19 L301,160.61 L301.5,161.05 L302,161.49 L302.5,161.93 L303,162.38 L303.5,162.84 L304,163.29 L304.5,163.74 L305,164.2 L305.5,164.65 L306,165.1 L306.5,165.54 L307,165.98 L307.5,166.41 L308,166.84 L308.5,167.25 L309,167.65 L309.5,168.05 L310,168.42 L310.5,168.79 L311,169.13 L311.5,169.46 L312,169.78 L312.5,170.07 L313,170.34 L313.5,170.59 L314,170.82 L314.5,171.02 L315,171.2" fill="none" stroke="#ff1a1a" stroke-width="1.3" stroke-linejoin="round" />
<rect x="48.5" y="5.5" width="267.0" height="197.0" fill="none" stroke="#222" stroke-width="1.15"/>
<line x1="48.5" y1="202.5" x2="48.5" y2="206.7" stroke="#222" stroke-width="1.15" />
<text x="48.5" y="218.7" font-size="11.5" text-anchor="middle" fill="#1a1a1a" >460</text>
<line x1="101.9" y1="202.5" x2="101.9" y2="206.7" stroke="#222" stroke-width="1.15" />
<text x="101.9" y="218.7" font-size="11.5" text-anchor="middle" fill="#1a1a1a" >480</text>
<line x1="155.3" y1="202.5" x2="155.3" y2="206.7" stroke="#222" stroke-width="1.15" />
<text x="155.3" y="218.7" font-size="11.5" text-anchor="middle" fill="#1a1a1a" >500</text>
<line x1="208.7" y1="202.5" x2="208.7" y2="206.7" stroke="#222" stroke-width="1.15" />
<text x="208.7" y="218.7" font-size="11.5" text-anchor="middle" fill="#1a1a1a" >520</text>
<line x1="262.1" y1="202.5" x2="262.1" y2="206.7" stroke="#222" stroke-width="1.15" />
<text x="262.1" y="218.7" font-size="11.5" text-anchor="middle" fill="#1a1a1a" >540</text>
<line x1="315.5" y1="202.5" x2="315.5" y2="206.7" stroke="#222" stroke-width="1.15" />
<text x="315.5" y="218.7" font-size="11.5" text-anchor="middle" fill="#1a1a1a" >560</text>
<line x1="75.2" y1="202.5" x2="75.2" y2="205.1" stroke="#222" stroke-width="1.15" />
<line x1="128.6" y1="202.5" x2="128.6" y2="205.1" stroke="#222" stroke-width="1.15" />
<line x1="182" y1="202.5" x2="182" y2="205.1" stroke="#222" stroke-width="1.15" />
<line x1="235.4" y1="202.5" x2="235.4" y2="205.1" stroke="#222" stroke-width="1.15" />
<line x1="288.8" y1="202.5" x2="288.8" y2="205.1" stroke="#222" stroke-width="1.15" />
<line x1="44.3" y1="202.5" x2="48.5" y2="202.5" stroke="#222" stroke-width="1.15" />
<text x="41.5" y="205.9" font-size="11.5" text-anchor="end" fill="#1a1a1a" >0.0</text>
<line x1="44.3" y1="153.25" x2="48.5" y2="153.25" stroke="#222" stroke-width="1.15" />
<text x="41.5" y="156.65" font-size="11.5" text-anchor="end" fill="#1a1a1a" >0.2</text>
<line x1="44.3" y1="104" x2="48.5" y2="104" stroke="#222" stroke-width="1.15" />
<text x="41.5" y="107.4" font-size="11.5" text-anchor="end" fill="#1a1a1a" >0.4</text>
<line x1="44.3" y1="54.75" x2="48.5" y2="54.75" stroke="#222" stroke-width="1.15" />
<text x="41.5" y="58.15" font-size="11.5" text-anchor="end" fill="#1a1a1a" >0.6</text>
<line x1="44.3" y1="5.5" x2="48.5" y2="5.5" stroke="#222" stroke-width="1.15" />
<text x="41.5" y="8.9" font-size="11.5" text-anchor="end" fill="#1a1a1a" >0.8</text>
<line x1="45.9" y1="177.88" x2="48.5" y2="177.88" stroke="#222" stroke-width="1.15" />
<line x1="45.9" y1="128.62" x2="48.5" y2="128.62" stroke="#222" stroke-width="1.15" />
<line x1="45.9" y1="79.38" x2="48.5" y2="79.38" stroke="#222" stroke-width="1.15" />
<line x1="45.9" y1="30.13" x2="48.5" y2="30.13" stroke="#222" stroke-width="1.15" />
<text x="183" y="238.9" font-size="13.7" text-anchor="middle" fill="#1a1a1a" >Wavelength (nm)</text>
<text x="0" y="0" font-size="13.7" text-anchor="middle" fill="#1a1a1a" transform="translate(10.9,107.5) rotate(-90)">Absorbance (arb. units)</text>
<text x="3" y="11.3" font-size="13.6" text-anchor="start" fill="#000" font-weight="bold">a</text>
<line x1="55.8" y1="16.9" x2="68.7" y2="16.9" stroke="#606060" stroke-width="2.0" />
<text x="73.3" y="21" font-size="10.75" text-anchor="start" fill="#1a1a1a" >EY</text>
<line x1="55.8" y1="30.4" x2="68.7" y2="30.4" stroke="#1a1aff" stroke-width="1.3" />
<text x="73.3" y="34.5" font-size="10.75" text-anchor="start" fill="#1a1a1a" >w/ MMOH (6 μM)</text>
<line x1="55.8" y1="43.5" x2="68.7" y2="43.5" stroke="#ff1a1a" stroke-width="1.3" />
<text x="73.3" y="47.6" font-size="10.75" text-anchor="start" fill="#1a1a1a" >w/ MMOH (10 μM)</text>
<line x1="195.3" y1="24.9" x2="195.3" y2="62.6" stroke="#2a2a2a" stroke-width="1.1" stroke-dasharray="4.9,4.3" stroke-dashoffset="1.8"/>
<line x1="207.3" y1="24.9" x2="207.3" y2="62.6" stroke="#2a2a2a" stroke-width="1.1" stroke-dasharray="4.9,4.3" stroke-dashoffset="1.8"/>
<line x1="197" y1="30.6" x2="202.5" y2="30.6" stroke="#ff1a1a" stroke-width="1.3" />
<path d="M201.5,28.3 L205.6,30.6 L201.5,32.9 Z" fill="#ff1a1a"/>
<path d="M408.5,60.01 L409,60.47 L409.5,60.39 L410,59.79 L410.5,59.72 L411,59.74 L411.5,60.06 L412,59.98 L412.5,60.02 L413,59.43 L413.5,60.31 L414,60.04 L414.5,60.12 L415,59.88 L415.5,59.8 L416,60.1 L416.5,60.21 L417,59.89 L417.5,59.89 L418,60.07 L418.5,59.54 L419,59.34 L419.5,59.88 L420,59.56 L420.5,59.13 L421,59.45 L421.5,59.6 L422,59.35 L422.5,59.3 L423,59.88 L423.5,60.21 L424,59.84 L424.5,59.67 L425,60.05 L425.5,60.17 L426,59.91 L426.5,60.16 L427,60.31 L427.5,59.86 L428,59.64 L428.5,60 L429,60.11 L429.5,60.23 L430,59.5 L430.5,59.53 L431,59.45 L431.5,59.26 L432,59.88 L432.5,60.06 L433,59.81 L433.5,60.42 L434,60.36 L434.5,60.24 L435,60.18 L435.5,60.19 L436,59.58 L436.5,60.09 L437,60.05 L437.5,59.38 L438,59.9 L438.5,59.93 L439,60.15 L439.5,59.83 L440,59.92 L440.5,59.98 L441,59.7 L441.5,60.07 L442,59.98 L442.5,60.06 L443,59.87 L443.5,60.32 L444,60.21 L444.5,59.97 L445,60.24 L445.5,60.56 L446,60.54 L446.5,59.59 L447,60.16 L447.5,60.16 L448,59.87 L448.5,59.67 L449,60.21 L449.5,59.64 L450,60.14 L450.5,60.32 L451,59.46 L451.5,59.62 L452,59.48 L452.5,60.04 L453,60.64 L453.5,60.63 L454,59.43 L454.5,59.66 L455,60.27 L455.5,60.58 L456,60.16 L456.5,59.74 L457,59.99 L457.5,59.95 L458,59.82 L458.5,59.71 L459,60.05 L459.5,60.08 L460,59.92 L460.5,59.77 L461,59.45 L461.5,59.78 L462,60.32 L462.5,59.87 L463,59.53 L463.5,60.35 L464,60.4 L464.5,60.74 L465,60.1 L465.5,59.69 L466,59.51 L466.5,60.5 L467,60.89 L467.5,59.81 L468,59.71 L468.5,60.06 L469,59.69 L469.5,59.77 L470,59.83 L470.5,60.08 L471,60.36 L471.5,60.12 L472,60.25 L472.5,59.91 L473,59.88 L473.5,59.13 L474,59.35 L474.5,60.09 L475,59.86 L475.5,60.16 L476,60.3 L476.5,60.53 L477,60.42 L477.5,60.37 L478,59.95 L478.5,59.66 L479,59.62 L479.5,59.65 L480,59.49 L480.5,59.68 L481,59.91 L481.5,60.02 L482,59.72 L482.5,59.26 L483,59.81 L483.5,60.12 L484,60.41 L484.5,60.2 L485,59.73 L485.5,59.82 L486,60.67 L486.5,60.52 L487,60.82 L487.5,60.79 L488,59.87 L488.5,60.07 L489,60.2 L489.5,60.24 L490,60.21 L490.5,60.09 L491,59.93 L491.5,59.44 L492,59.74 L492.5,59.7 L493,59.91 L493.5,59.85 L494,60.2 L494.5,60.31 L495,60.15 L495.5,60.09 L496,59.97 L496.5,59.79 L497,59.82 L497.5,59.79 L498,60.04 L498.5,60.02 L499,60.04 L499.5,59.58 L500,60.08 L500.5,59.66 L501,59.58 L501.5,59.74 L502,59.71 L502.5,59.9 L503,59.61 L503.5,59.38 L504,59.56 L504.5,60.21 L505,59.81 L505.5,59.35 L506,59.5 L506.5,59.24 L507,59.96 L507.5,59.09 L508,59.39 L508.5,59.17 L509,58.23 L509.5,58.12 L510,57.38 L510.5,55.39 L511,53.03 L511.06,52.98 L511.31,52.1 L511.5,52.57 L511.56,52.65 L512,54.71 L512.5,56.39 L513,58.02 L513.5,58.36 L514,58.59 L514.5,59.42 L515,60.11 L515.5,59.97 L516,59.57 L516.5,59.87 L517,59.63 L517.5,59.71 L518,59.66 L518.5,59.05 L519,59.67 L519.5,59.48 L520,59.46 L520.5,59.22 L521,59.2 L521.5,59.53 L522,60.27 L522.5,60.57 L523,60.13 L523.5,60.3 L524,59.79 L524.5,59.27 L525,59.89 L525.5,60.09 L526,59.86 L526.5,60.07 L527,60.12 L527.5,59.59 L528,59.36 L528.5,59.76 L529,59.84 L529.5,59.9 L530,60.41 L530.5,60.61 L531,60 L531.5,60.24 L532,60.39 L532.5,60.36 L533,60.35 L533.5,59.95 L534,60.34 L534.5,60.78 L535,60.34 L535.5,59.84 L536,60.21 L536.5,60.46 L537,60.12 L537.5,59.88 L538,60.33 L538.5,59.64 L539,60 L539.5,59.86 L540,59.58 L540.5,60.27 L541,60.02 L541.5,59.55 L542,59.97 L542.5,59.62 L543,59.11 L543.5,59.48 L544,59.92 L544.5,60.07 L545,59.92 L545.5,59.85 L546,59.93 L546.5,59.81 L547,60.15 L547.5,59.89 L548,59.86 L548.5,59.82 L549,59.29 L549.5,59.45 L550,60.16 L550.5,59.85 L551,59.59 L551.5,59.7 L552,59.52 L552.5,59.66 L553,59.46 L553.5,59.59 L554,59.25 L554.5,60 L555,59.51 L555.5,59.12 L556,59.52 L556.5,59.63 L557,59.72 L557.5,59.43 L558,60.13 L558.5,61.03 L559,59.69 L559.5,59.85 L560,59.79 L560.5,59.78 L561,59.18 L561.5,59.39 L562,59.97 L562.5,60.05 L563,60.43 L563.5,59.81 L564,60.15 L564.5,60.91 L565,59.82 L565.5,59.56 L566,59.86 L566.5,59.99 L567,60.25 L567.5,60 L568,59.71 L568.5,60.16 L569,60.98 L569.5,60.38 L570,59.06 L570.5,59.62 L571,59.67 L571.5,60.07 L572,60.06 L572.5,60.65 L573,60.44 L573.5,60.29 L574,60 L574.5,59.87 L575,60.02 L575.5,60.28 L576,59.94 L576.5,59.59 L577,59.85 L577.5,59.37 L578,58.94 L578.5,58.63 L579,58.8 L579.5,58.83 L580,58.53 L580.5,59.79 L581,59.93 L581.5,59.77 L582,60.13 L582.5,60.02 L583,59.75 L583.5,58.91 L584,59.54 L584.5,60.04 L585,60.48 L585.5,60.58 L586,60.24 L586.5,59.19 L587,58.8 L587.5,59.6 L588,59.64 L588.5,59.78 L589,59.43 L589.5,59.26 L590,58.75 L590.5,59.14 L591,58.94 L591.5,59.08 L592,59.05 L592.5,58.83 L593,58.89 L593.5,58.86 L594,59.12 L594.5,59.07 L595,58.76 L595.5,58.93 L596,59.7 L596.5,59.41 L597,59.7 L597.5,59.58 L598,59.26 L598.5,59.25 L599,59.61 L599.5,59.8 L600,59.84 L600.5,59.3 L601,59.47 L601.5,59.85 L602,60.21 L602.5,59.18 L603,59.81 L603.5,59.77 L604,59.99 L604.5,59.82 L605,60.15 L605.5,60.56 L606,60.24 L606.5,60.18 L607,60.09 L607.5,59.8 L608,60.12 L608.5,59.92 L609,59.71 L609.5,59.93 L610,60 L610.5,60.28 L611,60.04 L611.5,59.97 L612,60.59 L612.5,60.6 L613,60.62 L613.5,60.36 L614,60.04 L614.5,59.89 L615,60.01 L615.5,60.39 L616,60.08 L616.5,59.57 L617,59.85 L617.5,59.6 L618,59.95 L618.5,59.58 L619,59.57 L619.5,60.03 L620,59.95 L620.5,59.56 L621,60.4 L621.5,60.8 L622,59.88 L622.5,60.58 L623,59.96 L623.5,59.87 L624,59.9 L624.5,59.69 L625,60.49 L625.5,60.33 L626,59.87 L626.5,59.85 L627,59.54 L627.5,59.95 L628,60.29 L628.5,59.56 L629,59.85 L629.5,60.22 L630,60.6 L630.5,60.64 L631,60.01 L631.5,59.87 L632,60.2 L632.5,60.01 L633,60.08 L633.5,60.61 L634,60.82 L634.5,60.34 L635,60.13 L635.5,60.18 L636,59.52 L636.5,59.91 L637,59.94 L637.5,60.95 L638,60.58 L638.5,60.23 L639,59.9 L639.5,59.3 L640,60.33 L640.5,60.71 L641,60.06 L641.5,60.38 L642,60.33 L642.5,59.73 L643,60.46 L643.5,60.71 L644,60.33 L644.5,60.2 L645,60.31 L645.5,59.68 L646,60.15 L646.5,60.44 L647,59.87 L647.5,60.38 L648,59.93 L648.5,59.39 L649,59.89 L649.5,59.83 L650,60.11 L650.5,59.85 L651,60.38 L651.5,60.01 L652,60.19 L652.5,59.96 L653,60.09 L653.5,60.57 L654,60.3 L654.5,59.95 L655,59.79 L655.5,60.53 L656,60.49 L656.5,60.13 L657,60.15 L657.5,59.75 L658,59.68 L658.5,59.83 L659,60.26 L659.5,60.25 L660,59.99 L660.5,60.43 L661,60.52 L661.5,60.37 L662,60.53 L662.5,60.14 L663,60.15 L663.5,60.33 L664,60.26 L664.5,60.36 L665,59.91 L665.5,60.53 L666,60 L666.5,59.96 L667,59.73 L667.5,60.38 L668,60.75 L668.5,60.72 L669,60.44 L669.5,59.64 L670,59.76 L670.5,59.9 L671,59.91 L671.5,60.52 L672,60.34 L672.5,60.23 L673,60.29 L673.5,59.83 L674,59.74 L674.5,59.85 L675,60.33 L675.5,60.39 L676,60.5 L676.5,60.61" fill="none" stroke="#ff1a1a" stroke-width="1.3" stroke-linejoin="round" />
<path d="M408.5,87.07 L409,87.42 L409.5,87.39 L410,87.43 L410.5,87.53 L411,86.65 L411.5,86.59 L412,86.48 L412.5,86.94 L413,87.34 L413.5,87.11 L414,87.03 L414.5,86.38 L415,86.85 L415.5,86.83 L416,87.63 L416.5,87.52 L417,87.4 L417.5,87.11 L418,87.27 L418.5,87.26 L419,86.9 L419.5,86.8 L420,86.89 L420.5,86.75 L421,86.74 L421.5,86.81 L422,86.79 L422.5,87.11 L423,86.57 L423.5,87.14 L424,86.82 L424.5,86.68 L425,86.49 L425.5,86.85 L426,86.93 L426.5,87.03 L427,86.85 L427.5,87.15 L428,87.69 L428.5,87.26 L429,86.92 L429.5,87.3 L430,87.09 L430.5,87.27 L431,87.25 L431.5,86.79 L432,86.29 L432.5,86.8 L433,87.16 L433.5,86.97 L434,87.22 L434.5,87.36 L435,87 L435.5,87.54 L436,87.77 L436.5,87.62 L437,87.6 L437.5,87.67 L438,87.92 L438.5,87.27 L439,87.09 L439.5,87.18 L440,86.64 L440.5,86.36 L441,86.64 L441.5,87.13 L442,87.11 L442.5,86.39 L443,86.24 L443.5,86.77 L444,86.94 L444.5,87.06 L445,87.36 L445.5,87.54 L446,87.26 L446.5,87.19 L447,86.61 L447.5,86.56 L448,87.09 L448.5,87.35 L449,87.39 L449.5,87.36 L450,87.42 L450.5,87.25 L451,86.44 L451.5,86.69 L452,87.19 L452.5,87.18 L453,86.65 L453.5,87.31 L454,86.96 L454.5,86.95 L455,87.18 L455.5,87.22 L456,86.68 L456.5,87.29 L457,87.09 L457.5,86.77 L458,86.73 L458.5,86.22 L459,86.68 L459.5,87.01 L460,86.79 L460.5,86.87 L461,86.98 L461.5,87.14 L462,87.41 L462.5,87.1 L463,87 L463.5,87.38 L464,87.8 L464.5,87.13 L465,87.09 L465.5,86.65 L466,87.46 L466.5,87.49 L467,87.57 L467.5,87.06 L468,86.76 L468.5,87.35 L469,87.33 L469.5,86.7 L470,86.52 L470.5,87.1 L471,87.23 L471.5,87.92 L472,87.01 L472.5,86.83 L473,86.86 L473.5,86.41 L474,86.75 L474.5,87.57 L475,87.1 L475.5,86.75 L476,86.62 L476.5,87.23 L477,87.36 L477.5,87.18 L478,86.98 L478.5,87.18 L479,87.18 L479.5,86.91 L480,87.08 L480.5,86.28 L481,86.44 L481.5,86.86 L482,86.92 L482.5,86.68 L483,87.18 L483.5,87.5 L484,87.33 L484.5,87.25 L485,87.41 L485.5,87.19 L486,86.69 L486.5,87.01 L487,87.43 L487.5,86.78 L488,86.98 L488.5,86.88 L489,86.65 L489.5,86.66 L490,87.06 L490.5,87.21 L491,87.1 L491.5,86.57 L492,86.89 L492.5,87.24 L493,87.48 L493.5,87.44 L494,87.49 L494.5,87.58 L495,87.38 L495.5,86.85 L496,86.97 L496.5,86.64 L497,86.05 L497.5,86.45 L498,87.58 L498.5,86.65 L499,86.14 L499.5,86.79 L500,87.53 L500.5,87.17 L501,87.15 L501.5,86.96 L502,87.07 L502.5,87.51 L503,87.37 L503.5,87.08 L504,87.36 L504.5,87.38 L505,86.95 L505.5,86.99 L506,86.9 L506.5,86.65 L507,87.04 L507.5,86.55 L508,86.03 L508.5,85.36 L509,85.14 L509.5,85.08 L510,83.04 L510.46,81.85 L510.5,81.68 L510.71,81.4 L510.96,82 L511,81.65 L511.5,83.39 L512,84.91 L512.5,85.73 L513,86.12 L513.5,86.36 L514,86.9 L514.5,87.27 L515,87.03 L515.5,86.67 L516,86.99 L516.5,87.02 L517,87.27 L517.5,87.65 L518,87.07 L518.5,86.93 L519,86.7 L519.5,86.83 L520,86.95 L520.5,87.6 L521,87.25 L521.5,87.04 L522,87.61 L522.5,86.82 L523,87.36 L523.5,87.55 L524,87.35 L524.5,87.03 L525,87 L525.5,87.02 L526,87.17 L526.5,86.31 L527,86.76 L527.5,87.07 L528,86.78 L528.5,86.41 L529,86.83 L529.5,86.89 L530,87.44 L530.5,87.67 L531,87.1 L531.5,86.43 L532,86.83 L532.5,86.83 L533,87.41 L533.5,87.79 L534,87.51 L534.5,87.97 L535,87.86 L535.5,87.41 L536,86.89 L536.5,87.03 L537,86.76 L537.5,87.45 L538,87.41 L538.5,87.7 L539,87.25 L539.5,86.59 L540,87.35 L540.5,87.7 L541,87.78 L541.5,86.92 L542,86.81 L542.5,87.08 L543,86.74 L543.5,86.56 L544,86.91 L544.5,87.98 L545,87.1 L545.5,86.76 L546,86.96 L546.5,87.25 L547,87.71 L547.5,87.67 L548,87.54 L548.5,87.27 L549,87.2 L549.5,86.86 L550,86.76 L550.5,87.75 L551,87.26 L551.5,87.48 L552,87.14 L552.5,87.12 L553,87.02 L553.5,86.69 L554,87.08 L554.5,87.37 L555,87.54 L555.5,87.49 L556,87.6 L556.5,87.36 L557,87.05 L557.5,86.45 L558,86.96 L558.5,87.69 L559,87.4 L559.5,87.45 L560,87.11 L560.5,87.08 L561,87.87 L561.5,87.57 L562,87.76 L562.5,87.45 L563,86.94 L563.5,86.37 L564,86.92 L564.5,86.46 L565,86.37 L565.5,87.49 L566,87.56 L566.5,87.45 L567,87.22 L567.5,87.18 L568,87.31 L568.5,87.24 L569,87.24 L569.5,87.23 L570,86.4 L570.5,87.22 L571,87.04 L571.5,87.47 L572,87.53 L572.5,86.96 L573,87.37 L573.5,87.36 L574,86.84 L574.5,86.81 L575,86.85 L575.5,86.17 L576,86.62 L576.5,86.85 L577,86.49 L577.5,86 L578,86.36 L578.5,87.07 L579,87.11 L579.5,86.66 L580,86.47 L580.5,86.76 L581,86.82 L581.5,86.62 L582,86.77 L582.5,87.16 L583,87.08 L583.5,86.16 L584,87.03 L584.5,87.04 L585,87.22 L585.5,86.89 L586,87.01 L586.5,87.08 L587,85.85 L587.5,86.93 L588,86.57 L588.5,85.62 L589,85.31 L589.5,86.09 L590,85.89 L590.5,86.33 L591,86.06 L591.5,85.86 L592,86.07 L592.5,85.84 L593,85.94 L593.5,85.98 L594,85.88 L594.5,86.08 L595,86.05 L595.5,85.49 L596,85.83 L596.5,86.07 L597,86.01 L597.5,85.74 L598,86.16 L598.5,86.63 L599,86.81 L599.5,87.17 L600,86.59 L600.5,86.53 L601,86.56 L601.5,86.65 L602,86.51 L602.5,86.24 L603,86.99 L603.5,87.42 L604,87.36 L604.5,86.69 L605,87 L605.5,87.65 L606,87.17 L606.5,87.16 L607,87.12 L607.5,87.49 L608,87.68 L608.5,88.02 L609,87.49 L609.5,87.21 L610,86.7 L610.5,86.84 L611,86.83 L611.5,86.87 L612,86.75 L612.5,87.39 L613,86.89 L613.5,87.08 L614,86.76 L614.5,87.31 L615,87.71 L615.5,87.03 L616,87.23 L616.5,87.2 L617,87.3 L617.5,87.3 L618,86.98 L618.5,87.03 L619,86.91 L619.5,86.76 L620,86.77 L620.5,87.38 L621,87.06 L621.5,87.42 L622,87.37 L622.5,86.97 L623,87.43 L623.5,87.03 L624,87.47 L624.5,87.71 L625,87 L625.5,86.76 L626,86.99 L626.5,87.92 L627,87.16 L627.5,86.81 L628,87.39 L628.5,87.22 L629,87.12 L629.5,86.7 L630,86.31 L630.5,86.72 L631,86.68 L631.5,86.5 L632,86.65 L632.5,86.87 L633,87.49 L633.5,87.57 L634,87.42 L634.5,86.99 L635,86.77 L635.5,87.27 L636,87.49 L636.5,87.61 L637,87.29 L637.5,87.21 L638,87.26 L638.5,86.87 L639,86.93 L639.5,87.31 L640,86.84 L640.5,87.18 L641,87.53 L641.5,87.42 L642,87.33 L642.5,86.88 L643,87.1 L643.5,87.19 L644,87.47 L644.5,87.44 L645,87.44 L645.5,87.96 L646,87.57 L646.5,87.15 L647,87.02 L647.5,87.16 L648,87.18 L648.5,87.84 L649,87.56 L649.5,87.15 L650,86.94 L650.5,86.82 L651,87.19 L651.5,87.77 L652,87.66 L652.5,87.33 L653,87.18 L653.5,86.69 L654,87.39 L654.5,87.36 L655,87.73 L655.5,87.29 L656,87.12 L656.5,87.28 L657,87.18 L657.5,87.73 L658,87.52 L658.5,87.47 L659,87.41 L659.5,87.23 L660,87.45 L660.5,87.53 L661,87.93 L661.5,87.48 L662,87.4 L662.5,87.14 L663,87.12 L663.5,87.27 L664,87.75 L664.5,87.51 L665,87.64 L665.5,87.27 L666,87.03 L666.5,86.69 L667,87.63 L667.5,88.09 L668,87.51 L668.5,87.88 L669,87.69 L669.5,87.21 L670,87.48 L670.5,87.06 L671,87.26 L671.5,87.75 L672,87.4 L672.5,87.05 L673,87.66 L673.5,87.05 L674,87.18 L674.5,87.2 L675,87.2 L675.5,86.91 L676,86.85 L676.5,87.86" fill="none" stroke="#1a1aff" stroke-width="1.3" stroke-linejoin="round" />
<path d="M408.5,114.51 L409,113.23 L409.5,114.21 L410,114.29 L410.5,114.6 L411,114.47 L411.5,114.77 L412,114.21 L412.5,113.97 L413,114.3 L413.5,114.27 L414,113.99 L414.5,114.05 L415,114.39 L415.5,114.37 L416,113.96 L416.5,113.81 L417,113.57 L417.5,114.54 L418,114.26 L418.5,114.59 L419,114.5 L419.5,114.94 L420,114.82 L420.5,114.45 L421,114.58 L421.5,113.99 L422,114.37 L422.5,113.72 L423,114.2 L423.5,114.53 L424,114.25 L424.5,113.94 L425,113.78 L425.5,114.02 L426,114.53 L426.5,114.49 L427,114 L427.5,113.71 L428,114.15 L428.5,113.62 L429,113.77 L429.5,113.88 L430,114.34 L430.5,114.29 L431,114.32 L431.5,114.2 L432,113.95 L432.5,114.37 L433,114.66 L433.5,114.27 L434,114.34 L434.5,114.21 L435,114.53 L435.5,114.5 L436,114.51 L436.5,114.44 L437,114.7 L437.5,114.1 L438,113.94 L438.5,113.94 L439,114.25 L439.5,113.91 L440,113.91 L440.5,114.43 L441,114.64 L441.5,114.22 L442,113.17 L442.5,113.52 L443,113.6 L443.5,113.6 L444,114.04 L444.5,114.72 L445,114.11 L445.5,113.91 L446,114.33 L446.5,114.22 L447,114.14 L447.5,113.91 L448,114.12 L448.5,114.15 L449,113.38 L449.5,113.52 L450,114.46 L450.5,114.48 L451,113.95 L451.5,113.73 L452,113.91 L452.5,113.69 L453,114.06 L453.5,114.71 L454,114.4 L454.5,114.55 L455,114.18 L455.5,114.36 L456,114.56 L456.5,113.76 L457,113.92 L457.5,114.09 L458,114.35 L458.5,114.77 L459,114.4 L459.5,113.66 L460,113.88 L460.5,113.75 L461,113.92 L461.5,114.71 L462,113.95 L462.5,114.1 L463,113.99 L463.5,114.43 L464,114.35 L464.5,114.22 L465,114.23 L465.5,114.48 L466,113.86 L466.5,113.75 L467,113.81 L467.5,114.52 L468,114.08 L468.5,113.74 L469,114.12 L469.5,115 L470,114.38 L470.5,114.49 L471,114.39 L471.5,114.14 L472,113.89 L472.5,113.97 L473,113.85 L473.5,113.56 L474,114.97 L474.5,114.69 L475,114.26 L475.5,114.04 L476,113.95 L476.5,114.43 L477,114.21 L477.5,114.22 L478,113.75 L478.5,114.35 L479,114.87 L479.5,114.28 L480,114.43 L480.5,114.32 L481,114.64 L481.5,114.63 L482,114.23 L482.5,114 L483,114.23 L483.5,114.16 L484,113.99 L484.5,114.32 L485,114.29 L485.5,113.88 L486,114.28 L486.5,115.25 L487,114.68 L487.5,114.45 L488,115.02 L488.5,114.01 L489,113.13 L489.5,113.2 L490,113.51 L490.5,114.22 L491,114.37 L491.5,113.57 L492,114.3 L492.5,113.84 L493,114.2 L493.5,114.38 L494,114.35 L494.5,114.21 L495,114.14 L495.5,113.79 L496,114.24 L496.5,114.59 L497,114.75 L497.5,115.22 L498,114.78 L498.5,114.61 L499,114.8 L499.5,114.25 L500,113.53 L500.5,113.34 L501,114.44 L501.5,114.47 L502,114.42 L502.5,114.06 L503,114.31 L503.5,114.77 L504,114.22 L504.5,113.62 L505,113.85 L505.5,114.32 L506,113.42 L506.5,112.67 L507,112.64 L507.5,113.02 L508,113.6 L508.5,113.18 L509,112.39 L509.5,111.65 L510,111.29 L510.5,110.77 L511,110.7 L511.5,111.36 L512,112.11 L512.5,113.21 L513,112.51 L513.5,113.24 L514,113.34 L514.5,113.91 L515,113.84 L515.5,114.06 L516,114.19 L516.5,114.19 L517,114.29 L517.5,113.71 L518,114.29 L518.5,114.12 L519,114.34 L519.5,114.78 L520,114.79 L520.5,114.75 L521,113.43 L521.5,113.72 L522,114.34 L522.5,113.83 L523,114.15 L523.5,114.82 L524,114.54 L524.5,113.94 L525,114.32 L525.5,114.45 L526,114.25 L526.5,114.17 L527,114.12 L527.5,113.69 L528,114.05 L528.5,113.9 L529,114.29 L529.5,114.31 L530,113.96 L530.5,114.37 L531,114.37 L531.5,114.27 L532,114.43 L532.5,114.13 L533,114.09 L533.5,114.21 L534,114.28 L534.5,114.42 L535,113.44 L535.5,113.77 L536,113.44 L536.5,113.89 L537,114.25 L537.5,114.29 L538,114.56 L538.5,114.17 L539,113.17 L539.5,113.71 L540,114.76 L540.5,114.85 L541,114.22 L541.5,113.81 L542,114.66 L542.5,113.63 L543,114.12 L543.5,114.19 L544,114.16 L544.5,113.74 L545,114.01 L545.5,114.47 L546,113.96 L546.5,113.63 L547,114.04 L547.5,114.16 L548,114.04 L548.5,113.89 L549,114.25 L549.5,114.03 L550,113.71 L550.5,114.1 L551,114.12 L551.5,114.02 L552,113.44 L552.5,113.71 L553,114.24 L553.5,114.44 L554,114.24 L554.5,114.16 L555,114.35 L555.5,114.52 L556,114.69 L556.5,114.19 L557,113.78 L557.5,113.85 L558,113.2 L558.5,113.65 L559,113.62 L559.5,113.75 L560,113.91 L560.5,113.68 L561,113.21 L561.5,113.46 L562,113.47 L562.5,113.78 L563,113.91 L563.5,113.63 L564,114.21 L564.5,114.45 L565,114.04 L565.5,114.13 L566,113.53 L566.5,113.82 L567,114.23 L567.5,113.5 L568,113.72 L568.5,113.84 L569,114.54 L569.5,114.56 L570,114.01 L570.5,113.94 L571,113.3 L571.5,114.27 L572,114.43 L572.5,114.46 L573,113.44 L573.5,114.06 L574,113.85 L574.5,113.15 L575,113.69 L575.5,114.12 L576,114.42 L576.5,114.22 L577,113.99 L577.5,114.22 L578,114.05 L578.5,113.78 L579,113.68 L579.5,114.05 L580,114.25 L580.5,114.64 L581,114.1 L581.5,114.52 L582,114.26 L582.5,114.26 L583,113.55 L583.5,113.39 L584,113.61 L584.5,113.93 L585,113.71 L585.5,113.69 L586,113.48 L586.5,113.44 L587,112.93 L587.5,112.44 L588,112.46 L588.5,112.28 L589,112.53 L589.5,111.98 L590,111.99 L590.5,112.17 L591,112.88 L591.5,113.14 L592,113.14 L592.5,112.65 L593,112.72 L593.5,113.5 L594,113.97 L594.5,114.13 L595,113.24 L595.5,113.52 L596,113.22 L596.5,113.46 L597,113.91 L597.5,114.3 L598,113.88 L598.5,113.76 L599,114.02 L599.5,114.71 L600,114.96 L600.5,113.77 L601,113.92 L601.5,114.09 L602,114.59 L602.5,114.55 L603,114.7 L603.5,113.97 L604,114.11 L604.5,113.98 L605,113.8 L605.5,114.01 L606,113.98 L606.5,114.95 L607,114.48 L607.5,113.88 L608,114.1 L608.5,114.79 L609,114.28 L609.5,114.52 L610,114.61 L610.5,114.75 L611,114.56 L611.5,114.21 L612,113.93 L612.5,113.61 L613,114.15 L613.5,114.31 L614,114.16 L614.5,114.12 L615,114.02 L615.5,114.93 L616,114.21 L616.5,113.85 L617,114 L617.5,114.25 L618,114.37 L618.5,113.55 L619,114.26 L619.5,114.12 L620,114.28 L620.5,114.71 L621,114.61 L621.5,114.13 L622,114.37 L622.5,115.07 L623,115 L623.5,114.73 L624,114.46 L624.5,114.69 L625,114.49 L625.5,114.09 L626,113.97 L626.5,114.46 L627,114.59 L627.5,114.74 L628,114.36 L628.5,114.76 L629,114.4 L629.5,114.78 L630,114.57 L630.5,114.1 L631,113.95 L631.5,114.2 L632,114.3 L632.5,114.59 L633,114.05 L633.5,113.77 L634,114.36 L634.5,115.13 L635,115.01 L635.5,114.22 L636,114.22 L636.5,114.38 L637,114.11 L637.5,114.18 L638,114.14 L638.5,113.9 L639,114 L639.5,114.13 L640,114.28 L640.5,113.93 L641,114.18 L641.5,113.89 L642,113.81 L642.5,114.03 L643,115.45 L643.5,114.59 L644,114.19 L644.5,114.23 L645,114.08 L645.5,114.24 L646,114.41 L646.5,114.52 L647,114.67 L647.5,114.68 L648,113.37 L648.5,113.98 L649,114.51 L649.5,114.26 L650,114.38 L650.5,114.88 L651,114.67 L651.5,114.99 L652,114.5 L652.5,114.36 L653,113.86 L653.5,113.56 L654,114.07 L654.5,114.33 L655,114.15 L655.5,113.92 L656,114.5 L656.5,114.44 L657,114.32 L657.5,114.22 L658,115 L658.5,115.04 L659,114.58 L659.5,114.38 L660,114.58 L660.5,115.2 L661,115.49 L661.5,114.56 L662,114.09 L662.5,113.92 L663,115.14 L663.5,114.27 L664,114.64 L664.5,114.72 L665,114.82 L665.5,114.06 L666,113.76 L666.5,114.34 L667,114.63 L667.5,114.69 L668,113.85 L668.5,114.08 L669,114.16 L669.5,113.88 L670,114.29 L670.5,114.65 L671,114.33 L671.5,113.91 L672,114.47 L672.5,114.76 L673,114.7 L673.5,114.59 L674,113.91 L674.5,114.48 L675,114.61 L675.5,114.3 L676,114.29 L676.5,114.12" fill="none" stroke="#a636c8" stroke-width="1.3" stroke-linejoin="round" />
<path d="M408.5,141.07 L409,140.49 L409.5,140.06 L410,139.73 L410.5,140.65 L411,141.31 L411.5,141.04 L412,141.16 L412.5,141.23 L413,140.87 L413.5,141.7 L414,140.82 L414.5,141.17 L415,141.88 L415.5,141.08 L416,140.9 L416.5,140.76 L417,140.83 L417.5,140.14 L418,140.65 L418.5,141.47 L419,141.09 L419.5,140.87 L420,141.05 L420.5,141.1 L421,141.04 L421.5,141 L422,140.42 L422.5,140.95 L423,140.78 L423.5,141.14 L424,140.89 L424.5,140.56 L425,140.74 L425.5,140.63 L426,141.19 L426.5,141.05 L427,141.13 L427.5,140.71 L428,141.38 L428.5,141.04 L429,141.44 L429.5,141.24 L430,140.62 L430.5,140.91 L431,140.79 L431.5,141.13 L432,141.51 L432.5,141.35 L433,141.26 L433.5,140.61 L434,140.94 L434.5,141.15 L435,141.29 L435.5,140.83 L436,141.11 L436.5,141.01 L437,140.35 L437.5,140.48 L438,140.92 L438.5,140.46 L439,140.48 L439.5,141.17 L440,141.08 L440.5,140.88 L441,140.92 L441.5,140.76 L442,140.68 L442.5,140.76 L443,141.13 L443.5,141.39 L444,140.86 L444.5,140.86 L445,140.76 L445.5,140.5 L446,141 L446.5,141.2 L447,140.77 L447.5,141.12 L448,140.89 L448.5,141.39 L449,141.42 L449.5,140.75 L450,140.19 L450.5,140.57 L451,140.33 L451.5,140.36 L452,140.86 L452.5,141.39 L453,141 L453.5,140.72 L454,140.24 L454.5,140.49 L455,140.45 L455.5,140.99 L456,140.8 L456.5,140.89 L457,140.93 L457.5,140.95 L458,141.31 L458.5,141.17 L459,140.89 L459.5,141.02 L460,141.26 L460.5,141.48 L461,141.21 L461.5,141.42 L462,140.84 L462.5,140.72 L463,140.48 L463.5,141.05 L464,140.58 L464.5,140.58 L465,141.13 L465.5,140.78 L466,140.72 L466.5,141.22 L467,141.03 L467.5,141.24 L468,140.94 L468.5,141.26 L469,141.4 L469.5,141.2 L470,141.57 L470.5,140.94 L471,140.86 L471.5,141.05 L472,141.3 L472.5,140.9 L473,140.81 L473.5,141.11 L474,141.39 L474.5,140.82 L475,140.48 L475.5,140.87 L476,141.13 L476.5,140.83 L477,140.83 L477.5,140.32 L478,140.84 L478.5,141.05 L479,141.21 L479.5,141.18 L480,141.18 L480.5,140.73 L481,141 L481.5,140.39 L482,140.72 L482.5,141.37 L483,141.21 L483.5,140.43 L484,141 L484.5,140.8 L485,140.68 L485.5,140.99 L486,141.13 L486.5,141.35 L487,140.53 L487.5,140.7 L488,140.74 L488.5,140.4 L489,141.37 L489.5,141.62 L490,140.9 L490.5,141.03 L491,140.91 L491.5,140.98 L492,140.8 L492.5,141.11 L493,140.71 L493.5,141.37 L494,141.36 L494.5,141.7 L495,140.54 L495.5,140.69 L496,140.47 L496.5,140.82 L497,141 L497.5,140.53 L498,140.22 L498.5,140.22 L499,140.95 L499.5,141.45 L500,141.4 L500.5,140.9 L501,140.5 L501.5,140.53 L502,140.15 L502.5,140.21 L503,141 L503.5,140.73 L504,140.74 L504.5,140.64 L505,141.07 L505.5,140.95 L506,140.05 L506.5,139.78 L507,139.54 L507.5,139.8 L508,139.31 L508.5,138.52 L509,138.99 L509.5,138.56 L510,138.37 L510.5,138.61 L511,139.63 L511.5,140.15 L512,140.15 L512.5,140.62 L513,141 L513.5,140.77 L514,141.11 L514.5,141.43 L515,141.04 L515.5,140.68 L516,140.99 L516.5,141.24 L517,141.64 L517.5,140.79 L518,140.35 L518.5,140.93 L519,141.03 L519.5,140.86 L520,141.13 L520.5,141.19 L521,141.34 L521.5,140.7 L522,140.65 L522.5,140.87 L523,140.89 L523.5,141.42 L524,141.27 L524.5,141.13 L525,141.55 L525.5,141.35 L526,141.43 L526.5,141.33 L527,140.99 L527.5,140.93 L528,140.9 L528.5,140.59 L529,140.86 L529.5,141.29 L530,141.1 L530.5,140.87 L531,141.68 L531.5,140.86 L532,141.19 L532.5,141.4 L533,141.44 L533.5,140.8 L534,140.93 L534.5,141.02 L535,141.42 L535.5,141.26 L536,141.22 L536.5,141.38 L537,141.79 L537.5,141.46 L538,141.3 L538.5,140.81 L539,141.09 L539.5,140.7 L540,141.27 L540.5,141.08 L541,140.64 L541.5,140.55 L542,140.91 L542.5,141.01 L543,140.81 L543.5,140.84 L544,140.85 L544.5,140.8 L545,140.93 L545.5,141.19 L546,141.54 L546.5,141.29 L547,140.98 L547.5,141.62 L548,141.52 L548.5,141.08 L549,141.29 L549.5,140.82 L550,140.63 L550.5,140.79 L551,141.49 L551.5,141.15 L552,141.07 L552.5,140.95 L553,140.82 L553.5,141.09 L554,141.3 L554.5,141.53 L555,140.79 L555.5,141.32 L556,140.98 L556.5,140.24 L557,141.01 L557.5,141.35 L558,141.1 L558.5,140.71 L559,140.41 L559.5,139.79 L560,140.4 L560.5,140.43 L561,140.13 L561.5,140.4 L562,140.44 L562.5,141.18 L563,140.26 L563.5,140.06 L564,139.82 L564.5,140.42 L565,140.76 L565.5,140.75 L566,140.66 L566.5,141.12 L567,141.1 L567.5,141.31 L568,140.82 L568.5,140.28 L569,140.67 L569.5,140.63 L570,141.11 L570.5,140.78 L571,140.82 L571.5,140.82 L572,140.4 L572.5,140.78 L573,141.2 L573.5,140.82 L574,140.88 L574.5,140.96 L575,140.72 L575.5,140.84 L576,141.06 L576.5,140.86 L577,140.93 L577.5,140.82 L578,140.46 L578.5,140.54 L579,141.61 L579.5,141.52 L580,141.01 L580.5,141.27 L581,141.37 L581.5,141.2 L582,140.62 L582.5,140.12 L583,140.12 L583.5,140.55 L584,141.12 L584.5,141.07 L585,140.32 L585.5,140.09 L586,140.45 L586.5,140.32 L587,139.01 L587.5,138.69 L588,137.96 L588.5,137.12 L589,136.74 L589.5,136.94 L590,137.52 L590.5,137.82 L591,138.92 L591.5,139.79 L592,140.2 L592.5,140.44 L593,140.47 L593.5,140.67 L594,141.22 L594.5,140.73 L595,140.84 L595.5,141.21 L596,140.82 L596.5,140.36 L597,140.56 L597.5,140.7 L598,140.81 L598.5,140.85 L599,141.33 L599.5,141.34 L600,141.18 L600.5,140.98 L601,141.42 L601.5,141.61 L602,141.82 L602.5,140.98 L603,141.07 L603.5,141.45 L604,140.81 L604.5,141.09 L605,141.17 L605.5,141.04 L606,140.76 L606.5,140.92 L607,140.66 L607.5,141.36 L608,141.02 L608.5,141.11 L609,141.12 L609.5,141.17 L610,141.19 L610.5,141.23 L611,141.01 L611.5,141.01 L612,140.65 L612.5,140.6 L613,140.66 L613.5,140.59 L614,140.51 L614.5,140.84 L615,141.31 L615.5,141.27 L616,141.02 L616.5,141.22 L617,141.47 L617.5,141.96 L618,140.79 L618.5,140.99 L619,140.78 L619.5,141.45 L620,141.18 L620.5,141.28 L621,141.29 L621.5,141.17 L622,140.09 L622.5,140.52 L623,140.98 L623.5,140.72 L624,141.33 L624.5,141.51 L625,140.75 L625.5,140.94 L626,141.47 L626.5,141.9 L627,141.69 L627.5,141.41 L628,140.9 L628.5,141.1 L629,141.15 L629.5,140.98 L630,141.23 L630.5,141.04 L631,141.13 L631.5,141.85 L632,141.39 L632.5,141.76 L633,141.15 L633.5,141 L634,140.67 L634.5,140.97 L635,141.66 L635.5,141.12 L636,140.55 L636.5,141.42 L637,140.9 L637.5,140.92 L638,140.94 L638.5,140.58 L639,141.61 L639.5,141.64 L640,141.09 L640.5,141.14 L641,140.9 L641.5,140.71 L642,140.58 L642.5,139.97 L643,139.69 L643.5,139.75 L644,140.9 L644.5,140.48 L645,141.31 L645.5,141.37 L646,141.12 L646.5,141.02 L647,141.8 L647.5,141.76 L648,141.21 L648.5,141.08 L649,141.33 L649.5,141.72 L650,140.97 L650.5,141.2 L651,141.45 L651.5,140.75 L652,141.11 L652.5,141.51 L653,141.08 L653.5,140.97 L654,140.64 L654.5,141.09 L655,140.75 L655.5,140.97 L656,141.21 L656.5,141.06 L657,141.48 L657.5,141.52 L658,141.47 L658.5,141.54 L659,141.03 L659.5,140.47 L660,141.37 L660.5,141.47 L661,141 L661.5,140.93 L662,141.48 L662.5,141.07 L663,140.97 L663.5,141.17 L664,141.9 L664.5,140.91 L665,140.21 L665.5,140.86 L666,140.66 L666.5,140.48 L667,141.02 L667.5,141.03 L668,141.38 L668.5,141.17 L669,141.59 L669.5,141.56 L670,141.27 L670.5,141.54 L671,141.87 L671.5,141.4 L672,140.69 L672.5,141.07 L673,141.3 L673.5,141.57 L674,141.27 L674.5,141.51 L675,141.18 L675.5,141.12 L676,141.06 L676.5,141.13" fill="none" stroke="#178a8a" stroke-width="1.3" stroke-linejoin="round" />
<path d="M408.5,167.53 L409,167.69 L409.5,168.13 L410,167.98 L410.5,168.3 L411,168.31 L411.5,167.73 L412,168.3 L412.5,168.13 L413,168.84 L413.5,168.47 L414,167.98 L414.5,168.15 L415,168.22 L415.5,168.34 L416,168.66 L416.5,168.52 L417,168.77 L417.5,168.44 L418,167.98 L418.5,167.44 L419,167.46 L419.5,168.12 L420,168.47 L420.5,168.62 L421,168.01 L421.5,168.03 L422,167.8 L422.5,167.73 L423,167.34 L423.5,168.15 L424,167.91 L424.5,168.07 L425,168.29 L425.5,168.17 L426,167.79 L426.5,168.61 L427,168.53 L427.5,168.3 L428,167.8 L428.5,167.38 L429,167.41 L429.5,167.94 L430,168.11 L430.5,168.02 L431,168.73 L431.5,168.44 L432,168.56 L432.5,168.43 L433,167.89 L433.5,168.42 L434,168.26 L434.5,167.77 L435,168.36 L435.5,168.63 L436,168.63 L436.5,168.46 L437,167.69 L437.5,167.89 L438,167.92 L438.5,168.11 L439,168.25 L439.5,168.59 L440,168.42 L440.5,167.96 L441,168.51 L441.5,168.79 L442,168.25 L442.5,167.58 L443,167.78 L443.5,167.9 L444,167.54 L444.5,167.87 L445,167.74 L445.5,168.37 L446,168.43 L446.5,168.07 L447,167.71 L447.5,168.1 L448,167.88 L448.5,167.93 L449,168.42 L449.5,167.85 L450,167.66 L450.5,168.45 L451,168.94 L451.5,168.9 L452,168.69 L452.5,168.91 L453,168.34 L453.5,169.03 L454,169.01 L454.5,168.21 L455,168.17 L455.5,167.65 L456,167.73 L456.5,168.18 L457,167.8 L457.5,168.17 L458,168.33 L458.5,168.3 L459,168.65 L459.5,168.92 L460,168.44 L460.5,168.63 L461,168.72 L461.5,168.06 L462,167.71 L462.5,167.29 L463,168.21 L463.5,168.6 L464,168.55 L464.5,169.05 L465,168.92 L465.5,168.56 L466,168.15 L466.5,167.86 L467,168.18 L467.5,168.35 L468,168.16 L468.5,168.03 L469,168.06 L469.5,168.26 L470,167.6 L470.5,167.93 L471,168.22 L471.5,168.47 L472,168.45 L472.5,168.1 L473,167.86 L473.5,167.8 L474,168.54 L474.5,168.48 L475,168.23 L475.5,167.85 L476,167.81 L476.5,168.49 L477,168.29 L477.5,168.47 L478,168.72 L478.5,167.71 L479,167.81 L479.5,168.29 L480,168.34 L480.5,167.85 L481,168.02 L481.5,167.91 L482,167.95 L482.5,168.27 L483,168.35 L483.5,168.64 L484,168.58 L484.5,168.67 L485,168.02 L485.5,168.14 L486,167.57 L486.5,167.36 L487,167.59 L487.5,168.31 L488,168.15 L488.5,167.69 L489,168.55 L489.5,168.57 L490,168.13 L490.5,168.04 L491,168.02 L491.5,167.88 L492,168.82 L492.5,168.12 L493,167.99 L493.5,167.94 L494,167.78 L494.5,167.76 L495,168.06 L495.5,167.61 L496,167.57 L496.5,167.78 L497,168.22 L497.5,167.7 L498,167.66 L498.5,168 L499,167.64 L499.5,167.89 L500,168.32 L500.5,168.2 L501,168.12 L501.5,168.45 L502,167.84 L502.5,167.51 L503,167.19 L503.5,167.74 L504,167.93 L504.5,167.66 L505,168.32 L505.5,168.13 L506,167.78 L506.5,167.03 L507,167.28 L507.5,167.12 L508,166.3 L508.5,166.69 L509,166.55 L509.5,166.12 L510,166.9 L510.5,167.56 L511,167.19 L511.5,166.69 L512,167.02 L512.5,167.53 L513,167.16 L513.5,167.51 L514,167.59 L514.5,167.82 L515,168.18 L515.5,167.43 L516,168.13 L516.5,168.03 L517,167.75 L517.5,167.36 L518,167.91 L518.5,167.64 L519,166.83 L519.5,167.23 L520,167.43 L520.5,167.56 L521,167.71 L521.5,167.85 L522,168.65 L522.5,168.58 L523,168.26 L523.5,168.75 L524,169.01 L524.5,168.36 L525,167.73 L525.5,168.28 L526,168.6 L526.5,167.9 L527,168.14 L527.5,168.57 L528,168.71 L528.5,168.58 L529,168.35 L529.5,168.11 L530,168.04 L530.5,168.55 L531,168.54 L531.5,168.03 L532,168 L532.5,168.65 L533,168.57 L533.5,167.87 L534,167.56 L534.5,168.17 L535,168.56 L535.5,168.65 L536,168.44 L536.5,167.72 L537,168.07 L537.5,168.01 L538,168.11 L538.5,169.07 L539,168.41 L539.5,168.26 L540,168.16 L540.5,168.5 L541,168.64 L541.5,168.19 L542,168.13 L542.5,167.96 L543,167.79 L543.5,168.08 L544,168.31 L544.5,168.21 L545,167.97 L545.5,167.54 L546,168.18 L546.5,168.39 L547,168.69 L547.5,167.97 L548,167.51 L548.5,167.35 L549,167.8 L549.5,168.12 L550,168.14 L550.5,167.59 L551,167.93 L551.5,168.48 L552,168.23 L552.5,168.01 L553,167.88 L553.5,167.46 L554,167.49 L554.5,167.93 L555,168.59 L555.5,168.59 L556,168.18 L556.5,168.32 L557,168.35 L557.5,168.44 L558,167.89 L558.5,168.12 L559,168.24 L559.5,167.58 L560,167.82 L560.5,168 L561,168.06 L561.5,168.07 L562,168.11 L562.5,168.26 L563,168.33 L563.5,168.14 L564,168.51 L564.5,167.75 L565,167.71 L565.5,167.87 L566,167.5 L566.5,167.22 L567,167.45 L567.5,168.22 L568,167.75 L568.5,167.64 L569,168.63 L569.5,168.35 L570,168.1 L570.5,167.79 L571,168.08 L571.5,167.97 L572,168.16 L572.5,168.11 L573,168.06 L573.5,168.12 L574,167.8 L574.5,167.86 L575,167.85 L575.5,168.26 L576,168.46 L576.5,168.31 L577,167.63 L577.5,168.55 L578,168.15 L578.5,168.03 L579,168.05 L579.5,168.13 L580,168.49 L580.5,168.18 L581,168.17 L581.5,168.4 L582,168.35 L582.5,167.49 L583,167.11 L583.5,166.74 L584,166.71 L584.5,167.26 L585,167.05 L585.5,166.57 L586,166.01 L586.5,165.04 L587,163.87 L587.5,162.28 L587.65,161.28 L587.9,160.9 L588,161.55 L588.15,161.14 L588.5,162.27 L589,163.73 L589.5,164.71 L590,165.98 L590.5,166.22 L591,166.98 L591.5,167.03 L592,167.47 L592.5,168 L593,167.88 L593.5,167.66 L594,168.04 L594.5,168.35 L595,168.38 L595.5,167.95 L596,168.43 L596.5,168.12 L597,168.04 L597.5,168.59 L598,168.54 L598.5,168.49 L599,168.17 L599.5,167.63 L600,168.29 L600.5,168.46 L601,168.37 L601.5,168.84 L602,168.55 L602.5,168.95 L603,168.76 L603.5,168.06 L604,167.91 L604.5,168.11 L605,168.3 L605.5,168.48 L606,168.06 L606.5,168.05 L607,168.97 L607.5,168.5 L608,168.54 L608.5,168.95 L609,168.31 L609.5,167.55 L610,168.27 L610.5,168.22 L611,168.49 L611.5,167.79 L612,168.32 L612.5,168.73 L613,168.96 L613.5,168.85 L614,168.74 L614.5,168.41 L615,168.26 L615.5,168.06 L616,168.72 L616.5,169.01 L617,168.61 L617.5,167.99 L618,167.76 L618.5,168.18 L619,168.87 L619.5,168.46 L620,168 L620.5,168.22 L621,168.57 L621.5,168.16 L622,168.1 L622.5,168.07 L623,168.15 L623.5,168.91 L624,168.25 L624.5,168.49 L625,168.79 L625.5,168.39 L626,168.21 L626.5,168.28 L627,168.34 L627.5,168.26 L628,168.17 L628.5,168.21 L629,168.51 L629.5,168.96 L630,168.42 L630.5,168.61 L631,168.3 L631.5,167.94 L632,167.93 L632.5,168.31 L633,167.98 L633.5,168.41 L634,168.42 L634.5,168.86 L635,168.22 L635.5,168.79 L636,169.01 L636.5,168.73 L637,168.28 L637.5,168.47 L638,168.44 L638.5,168.4 L639,168.67 L639.5,168.43 L640,168.53 L640.5,168.75 L641,168.37 L641.5,168.21 L642,168.3 L642.5,167.9 L643,167.2 L643.5,167.43 L644,167.43 L644.5,167.34 L645,167.44 L645.5,168.23 L646,168.16 L646.5,168.55 L647,168.68 L647.5,168.98 L648,168.76 L648.5,168.85 L649,168.91 L649.5,168.46 L650,168.85 L650.5,168.76 L651,167.78 L651.5,167.91 L652,168.5 L652.5,168.99 L653,168.32 L653.5,167.82 L654,167.78 L654.5,168.41 L655,168.45 L655.5,168.22 L656,168.43 L656.5,168.38 L657,168.67 L657.5,167.96 L658,168.21 L658.5,168.71 L659,168.2 L659.5,168.03 L660,168.37 L660.5,169.04 L661,168.74 L661.5,168.84 L662,168.17 L662.5,168.31 L663,168.64 L663.5,168.5 L664,168.07 L664.5,167.62 L665,168.47 L665.5,168.74 L666,168.49 L666.5,167.74 L667,167.73 L667.5,168.01 L668,168.07 L668.5,168.6 L669,168.07 L669.5,168.11 L670,167.85 L670.5,167.78 L671,168.62 L671.5,168.47 L672,168.16 L672.5,168.19 L673,167.75 L673.5,168.7 L674,168.01 L674.5,167.57 L675,167.9 L675.5,168.39 L676,168.46 L676.5,168.63" fill="none" stroke="#ff8c1a" stroke-width="1.3" stroke-linejoin="round" />
<path d="M408.5,195.7 L409,195.95 L409.5,196.09 L410,196.15 L410.5,196.21 L411,195.83 L411.5,195.88 L412,195.69 L412.5,195.46 L413,195.6 L413.5,195.76 L414,195.61 L414.5,195.77 L415,196.06 L415.5,196 L416,195.97 L416.5,195.9 L417,195.7 L417.5,195.45 L418,195.87 L418.5,195.55 L419,195.78 L419.5,195.8 L420,195.85 L420.5,195.86 L421,195.79 L421.5,195.93 L422,195.62 L422.5,195.85 L423,195.55 L423.5,195.97 L424,195.78 L424.5,195.94 L425,196.05 L425.5,195.42 L426,195.68 L426.5,195.97 L427,196.1 L427.5,196.17 L428,196.03 L428.5,195.96 L429,195.88 L429.5,195.89 L430,195.89 L430.5,196.04 L431,195.93 L431.5,196.04 L432,196.25 L432.5,196.13 L433,195.8 L433.5,195.82 L434,195.95 L434.5,195.64 L435,195.37 L435.5,195.56 L436,195.89 L436.5,195.79 L437,195.78 L437.5,195.92 L438,195.75 L438.5,196.26 L439,195.92 L439.5,195.86 L440,196.2 L440.5,195.67 L441,195.68 L441.5,195.75 L442,195.61 L442.5,195.75 L443,195.95 L443.5,195.9 L444,195.88 L444.5,196.13 L445,196.35 L445.5,196.16 L446,195.53 L446.5,196.07 L447,196.08 L447.5,195.92 L448,195.63 L448.5,195.69 L449,195.72 L449.5,195.6 L450,196.08 L450.5,196.09 L451,195.84 L451.5,195.71 L452,196.12 L452.5,196.09 L453,196.08 L453.5,195.92 L454,196.33 L454.5,196.02 L455,196.16 L455.5,195.53 L456,195.83 L456.5,195.77 L457,195.3 L457.5,195.55 L458,195.5 L458.5,195.47 L459,195.58 L459.5,195.59 L460,195.89 L460.5,195.98 L461,195.9 L461.5,195.67 L462,195.79 L462.5,196.17 L463,195.86 L463.5,195.81 L464,195.76 L464.5,195.98 L465,196.11 L465.5,196.09 L466,196.02 L466.5,196.02 L467,195.88 L467.5,195.94 L468,195.69 L468.5,195.88 L469,196 L469.5,195.73 L470,196 L470.5,195.91 L471,195.55 L471.5,195.38 L472,195.4 L472.5,195.59 L473,195.9 L473.5,195.99 L474,196.24 L474.5,196.38 L475,195.78 L475.5,195.35 L476,195.37 L476.5,195.35 L477,195.61 L477.5,195.78 L478,196.05 L478.5,195.6 L479,195.74 L479.5,195.8 L480,195.81 L480.5,195.84 L481,196.28 L481.5,195.93 L482,195.91 L482.5,196.03 L483,196.03 L483.5,196.2 L484,195.69 L484.5,195.76 L485,195.76 L485.5,195.88 L486,196.03 L486.5,195.7 L487,195.44 L487.5,195.76 L488,195.69 L488.5,195.97 L489,196.05 L489.5,196.35 L490,196.05 L490.5,195.74 L491,195.96 L491.5,196.12 L492,195.94 L492.5,195.86 L493,195.8 L493.5,195.74 L494,195.72 L494.5,196.1 L495,195.95 L495.5,195.64 L496,196.03 L496.5,195.93 L497,195.92 L497.5,195.96 L498,196.02 L498.5,195.44 L499,195.77 L499.5,195.95 L500,195.76 L500.5,195.42 L501,195.49 L501.5,195.85 L502,196 L502.5,195.38 L503,195.51 L503.5,195.69 L504,195.61 L504.5,195.5 L505,195.24 L505.5,194.45 L506,193.62 L506.5,194.22 L507,194.69 L507.5,195.21 L508,195.63 L508.5,195.58 L509,195.54 L509.5,194.84 L510,193.79 L510.5,193.21 L511,193.73 L511.5,194.67 L512,195.34 L512.5,195.66 L513,195.71 L513.5,195.46 L514,195.42 L514.5,195.58 L515,196.14 L515.5,195.93 L516,196.01 L516.5,195.88 L517,195.82 L517.5,195.8 L518,195.8 L518.5,195.93 L519,196.01 L519.5,195.67 L520,195.84 L520.5,195.83 L521,195.84 L521.5,196.1 L522,196.22 L522.5,195.71 L523,195.94 L523.5,196.19 L524,196.08 L524.5,195.64 L525,195.94 L525.5,195.84 L526,195.85 L526.5,196.02 L527,195.76 L527.5,195.97 L528,196.09 L528.5,195.79 L529,195.79 L529.5,196.29 L530,195.88 L530.5,196.14 L531,195.86 L531.5,195.92 L532,195.85 L532.5,195.95 L533,195.93 L533.5,195.71 L534,195.9 L534.5,196.09 L535,195.72 L535.5,195.45 L536,195.86 L536.5,195.79 L537,195.96 L537.5,195.84 L538,195.74 L538.5,195.86 L539,196.02 L539.5,195.96 L540,195.62 L540.5,195.53 L541,195.66 L541.5,196.13 L542,195.98 L542.5,195.74 L543,195.89 L543.5,196.15 L544,195.73 L544.5,195.82 L545,196.1 L545.5,196.14 L546,196.06 L546.5,195.77 L547,195.78 L547.5,195.41 L548,195.71 L548.5,195.75 L549,195.83 L549.5,196.13 L550,195.92 L550.5,195.9 L551,196.13 L551.5,196.29 L552,195.85 L552.5,196.01 L553,195.81 L553.5,195.53 L554,195.72 L554.5,195.92 L555,195.82 L555.5,195.76 L556,195.81 L556.5,195.75 L557,195.66 L557.5,195.51 L558,195.58 L558.5,194.95 L559,194.85 L559.5,193.96 L560,193.72 L560.5,194.2 L561,194.62 L561.5,195.46 L562,195.67 L562.5,195.18 L563,195.37 L563.5,195.01 L564,194.36 L564.5,194.91 L565,195.21 L565.5,195.74 L566,195.86 L566.5,195.51 L567,195.35 L567.5,195.02 L568,194.12 L568.5,194.37 L569,195.21 L569.5,195.95 L570,195.9 L570.5,195.61 L571,195.29 L571.5,195.24 L572,194.6 L572.5,193.42 L573,193.71 L573.5,194.47 L574,194.95 L574.5,194.82 L575,195.64 L575.5,195.34 L576,194.89 L576.5,194.57 L577,194.7 L577.5,195.4 L578,195.92 L578.5,195.82 L579,195.69 L579.5,195.73 L580,195.77 L580.5,195.66 L581,195.61 L581.5,195.71 L582,195.7 L582.5,195.51 L583,195.48 L583.5,195.01 L584,194.53 L584.5,194.03 L585,193.27 L585.5,190.02 L586,181.4 L586.01,181.14 L586.26,177.8 L586.5,181.13 L586.51,181.01 L587,189.89 L587.5,193.64 L588,194.97 L588.5,195.18 L589,195.37 L589.5,195.36 L590,195.42 L590.5,195.88 L591,196.08 L591.5,195.98 L592,195.94 L592.5,195.79 L593,196.11 L593.5,195.98 L594,195.84 L594.5,196.08 L595,195.76 L595.5,195.7 L596,195.88 L596.5,195.7 L597,195.72 L597.5,196.05 L598,196.01 L598.5,195.91 L599,196.09 L599.5,196.07 L600,196.19 L600.5,196.23 L601,196.14 L601.5,195.83 L602,196.12 L602.5,196.06 L603,196.09 L603.5,196.06 L604,196.15 L604.5,195.98 L605,195.91 L605.5,196.08 L606,195.9 L606.5,195.73 L607,195.89 L607.5,195.9 L608,195.9 L608.5,195.91 L609,195.81 L609.5,195.94 L610,196.52 L610.5,195.95 L611,196.03 L611.5,196.01 L612,195.84 L612.5,195.8 L613,195.68 L613.5,195.76 L614,196.23 L614.5,195.8 L615,195.8 L615.5,196.09 L616,195.81 L616.5,196.21 L617,196.1 L617.5,196.23 L618,195.84 L618.5,195.84 L619,196.1 L619.5,195.91 L620,195.86 L620.5,196.14 L621,195.97 L621.5,195.79 L622,195.95 L622.5,196.06 L623,196.04 L623.5,196.45 L624,196.18 L624.5,195.98 L625,196.03 L625.5,196.13 L626,195.86 L626.5,195.84 L627,195.89 L627.5,195.82 L628,195.66 L628.5,195.2 L629,195.53 L629.5,195.73 L630,195.8 L630.5,195.33 L631,195.12 L631.5,194.56 L632,193.87 L632.5,194 L633,194.51 L633.5,194.55 L634,193.87 L634.5,194.27 L635,195.11 L635.5,195.27 L636,195.91 L636.5,196.43 L637,195.77 L637.5,196.02 L638,195.99 L638.5,196.02 L639,195.84 L639.5,195.56 L640,195.74 L640.5,195.7 L641,195.66 L641.5,195.91 L642,196 L642.5,195.83 L643,196.09 L643.5,196.08 L644,196.14 L644.5,196.1 L645,196.03 L645.5,196.53 L646,196.3 L646.5,196.25 L647,196.02 L647.5,196.07 L648,196.19 L648.5,195.93 L649,196.14 L649.5,196.37 L650,196.07 L650.5,196.03 L651,195.83 L651.5,196.05 L652,196.14 L652.5,196.1 L653,196.16 L653.5,196.01 L654,196.06 L654.5,196.33 L655,196.32 L655.5,196.25 L656,196.45 L656.5,196.14 L657,196.09 L657.5,196.32 L658,196.58 L658.5,196.1 L659,196 L659.5,196 L660,195.9 L660.5,195.84 L661,196.21 L661.5,196.34 L662,196.26 L662.5,196.17 L663,196.04 L663.5,196.21 L664,196.14 L664.5,195.97 L665,196.05 L665.5,195.87 L666,195.94 L666.5,195.95 L667,196.18 L667.5,196 L668,196.08 L668.5,195.83 L669,196.1 L669.5,196.23 L670,196.07 L670.5,195.89 L671,195.92 L671.5,196.1 L672,196.07 L672.5,195.93 L673,195.71 L673.5,195.71 L674,195.9 L674.5,195.9 L675,196.12 L675.5,196.24 L676,196.1 L676.5,195.96" fill="none" stroke="#1a1a1a" stroke-width="1.15" stroke-linejoin="round" />
<rect x="408.5" y="2.9" width="268.35" height="196.7" fill="none" stroke="#222" stroke-width="1.15"/>
<line x1="408.5" y1="199.6" x2="408.5" y2="203.8" stroke="#222" stroke-width="1.15" />
<text x="408.5" y="215.6" font-size="11.5" text-anchor="middle" fill="#1a1a1a" >8.0</text>
<line x1="438.3" y1="199.6" x2="438.3" y2="203.8" stroke="#222" stroke-width="1.15" />
<text x="438.3" y="215.6" font-size="11.5" text-anchor="middle" fill="#1a1a1a" >7.9</text>
<line x1="468.1" y1="199.6" x2="468.1" y2="203.8" stroke="#222" stroke-width="1.15" />
<text x="468.1" y="215.6" font-size="11.5" text-anchor="middle" fill="#1a1a1a" >7.8</text>
<line x1="497.9" y1="199.6" x2="497.9" y2="203.8" stroke="#222" stroke-width="1.15" />
<text x="497.9" y="215.6" font-size="11.5" text-anchor="middle" fill="#1a1a1a" >7.7</text>
<line x1="527.7" y1="199.6" x2="527.7" y2="203.8" stroke="#222" stroke-width="1.15" />
<text x="527.7" y="215.6" font-size="11.5" text-anchor="middle" fill="#1a1a1a" >7.6</text>
<line x1="557.5" y1="199.6" x2="557.5" y2="203.8" stroke="#222" stroke-width="1.15" />
<text x="557.5" y="215.6" font-size="11.5" text-anchor="middle" fill="#1a1a1a" >7.5</text>
<line x1="587.3" y1="199.6" x2="587.3" y2="203.8" stroke="#222" stroke-width="1.15" />
<text x="587.3" y="215.6" font-size="11.5" text-anchor="middle" fill="#1a1a1a" >7.4</text>
<line x1="617.1" y1="199.6" x2="617.1" y2="203.8" stroke="#222" stroke-width="1.15" />
<text x="617.1" y="215.6" font-size="11.5" text-anchor="middle" fill="#1a1a1a" >7.3</text>
<line x1="646.9" y1="199.6" x2="646.9" y2="203.8" stroke="#222" stroke-width="1.15" />
<text x="646.9" y="215.6" font-size="11.5" text-anchor="middle" fill="#1a1a1a" >7.2</text>
<line x1="676.7" y1="199.6" x2="676.7" y2="203.8" stroke="#222" stroke-width="1.15" />
<text x="676.7" y="215.6" font-size="11.5" text-anchor="middle" fill="#1a1a1a" >7.1</text>
<line x1="423.4" y1="199.6" x2="423.4" y2="202.2" stroke="#222" stroke-width="1.15" />
<line x1="453.2" y1="199.6" x2="453.2" y2="202.2" stroke="#222" stroke-width="1.15" />
<line x1="483" y1="199.6" x2="483" y2="202.2" stroke="#222" stroke-width="1.15" />
<line x1="512.8" y1="199.6" x2="512.8" y2="202.2" stroke="#222" stroke-width="1.15" />
<line x1="542.6" y1="199.6" x2="542.6" y2="202.2" stroke="#222" stroke-width="1.15" />
<line x1="572.4" y1="199.6" x2="572.4" y2="202.2" stroke="#222" stroke-width="1.15" />
<line x1="602.2" y1="199.6" x2="602.2" y2="202.2" stroke="#222" stroke-width="1.15" />
<line x1="632" y1="199.6" x2="632" y2="202.2" stroke="#222" stroke-width="1.15" />
<line x1="661.8" y1="199.6" x2="661.8" y2="202.2" stroke="#222" stroke-width="1.15" />
<text x="545.5" y="237.6" font-size="13.7" text-anchor="middle" fill="#1a1a1a" ><tspan font-size="8" dy="-5">1</tspan><tspan dy="5">H chemical shift (ppm)</tspan></text>
<text x="0" y="0" font-size="13.7" text-anchor="middle" fill="#1a1a1a" transform="translate(376.2,101.3) rotate(-90)">Intensity (arb. units)</text>
<text x="365.3" y="14.6" font-size="13.6" text-anchor="start" fill="#000" font-weight="bold">b</text>
<line x1="417.8" y1="14" x2="430.1" y2="14" stroke="#b050d8" stroke-width="1.3" />
<text x="434.4" y="17.7" font-size="10.9" text-anchor="start" fill="#1a1a1a" >6 μM</text>
<line x1="417.8" y1="27.1" x2="430.1" y2="27.1" stroke="#178a8a" stroke-width="1.3" />
<text x="434.4" y="30.8" font-size="10.9" text-anchor="start" fill="#1a1a1a" >4 μM</text>
<line x1="417.8" y1="39.4" x2="430.1" y2="39.4" stroke="#ff8c1a" stroke-width="1.3" />
<text x="434.4" y="43.1" font-size="10.9" text-anchor="start" fill="#1a1a1a" >2 μM</text>
<line x1="467.5" y1="14" x2="479.8" y2="14" stroke="#ff3030" stroke-width="1.3" />
<text x="484.1" y="17.7" font-size="10.9" text-anchor="start" fill="#1a1a1a" >10 μM</text>
<line x1="467.5" y1="27.1" x2="479.8" y2="27.1" stroke="#1a1aff" stroke-width="1.3" />
<text x="484.1" y="30.8" font-size="10.9" text-anchor="start" fill="#1a1a1a" >8 μM</text>
<path d="M517.4,13 H522.1 V41.9 H517.4" fill="none" stroke="#222" stroke-width="1.1"/>
<text x="526" y="31.8" font-size="10.9" text-anchor="start" fill="#1a1a1a" >w/ MMOH</text>
<text x="508.3" y="190.8" font-size="10.5" text-anchor="middle" fill="#2020ff" >f</text>
<text x="565.5" y="190.8" font-size="10.5" text-anchor="middle" fill="#2020ff" >d + e</text>
<text x="586" y="178.4" font-size="10.5" text-anchor="middle" fill="#2020ff" >a + b</text>
<text x="633.4" y="190.8" font-size="10.5" text-anchor="middle" fill="#2020ff" >c</text>
<text x="414.1" y="191.7" font-size="10.5" text-anchor="start" fill="#1a1a1a" >EY</text>
<rect x="413.6" y="51.3" width="77.5" height="67.5" fill="#fff" stroke="#222" stroke-width="1.1"/>
<line x1="453.2" y1="58.5" x2="461.43" y2="63.25" stroke="#202020" stroke-width="0.95" stroke-linecap="round"/>
<line x1="461.43" y1="63.25" x2="461.43" y2="72.75" stroke="#202020" stroke-width="0.95" stroke-linecap="round"/>
<line x1="461.43" y1="72.75" x2="453.2" y2="77.5" stroke="#202020" stroke-width="0.95" stroke-linecap="round"/>
<line x1="453.2" y1="77.5" x2="444.97" y2="72.75" stroke="#202020" stroke-width="0.95" stroke-linecap="round"/>
<line x1="444.97" y1="72.75" x2="444.97" y2="63.25" stroke="#202020" stroke-width="0.95" stroke-linecap="round"/>
<line x1="444.97" y1="63.25" x2="453.2" y2="58.5" stroke="#202020" stroke-width="0.95" stroke-linecap="round"/>
<line x1="453.74" y1="60.6" x2="459.34" y2="63.83" stroke="#202020" stroke-width="0.95" />
<line x1="459.34" y1="72.17" x2="453.74" y2="75.4" stroke="#202020" stroke-width="0.95" />
<line x1="446.52" y1="71.23" x2="446.52" y2="64.77" stroke="#202020" stroke-width="0.95" />
<line x1="453" y1="86.5" x2="461.23" y2="91.25" stroke="#202020" stroke-width="0.95" stroke-linecap="round"/>
<line x1="444.77" y1="91.25" x2="453" y2="86.5" stroke="#202020" stroke-width="0.95" stroke-linecap="round"/>
<line x1="461.23" y1="91.25" x2="461.23" y2="100.75" stroke="#202020" stroke-width="0.95" stroke-linecap="round"/>
<line x1="444.77" y1="100.75" x2="444.77" y2="91.25" stroke="#202020" stroke-width="0.95" stroke-linecap="round"/>
<line x1="461.23" y1="100.75" x2="456.29" y2="103.6" stroke="#202020" stroke-width="0.95" stroke-linecap="round"/>
<line x1="444.77" y1="100.75" x2="449.71" y2="103.6" stroke="#202020" stroke-width="0.95" stroke-linecap="round"/>
<text x="453" y="107.7" font-size="6.2" text-anchor="middle" fill="#202020" >O</text>
<line x1="436.55" y1="86.5" x2="444.77" y2="91.25" stroke="#202020" stroke-width="0.95" stroke-linecap="round"/>
<line x1="444.77" y1="100.75" x2="436.55" y2="105.5" stroke="#202020" stroke-width="0.95" stroke-linecap="round"/>
<line x1="436.55" y1="105.5" x2="428.32" y2="100.75" stroke="#202020" stroke-width="0.95" stroke-linecap="round"/>
<line x1="428.32" y1="100.75" x2="428.32" y2="91.25" stroke="#202020" stroke-width="0.95" stroke-linecap="round"/>
<line x1="428.32" y1="91.25" x2="436.55" y2="86.5" stroke="#202020" stroke-width="0.95" stroke-linecap="round"/>
<line x1="437.09" y1="88.6" x2="442.68" y2="91.83" stroke="#202020" stroke-width="0.95" />
<line x1="442.68" y1="100.17" x2="437.09" y2="103.4" stroke="#202020" stroke-width="0.95" />
<line x1="429.87" y1="99.23" x2="429.87" y2="92.77" stroke="#202020" stroke-width="0.95" />
<line x1="469.45" y1="86.5" x2="477.68" y2="91.25" stroke="#202020" stroke-width="0.95" stroke-linecap="round"/>
<line x1="477.68" y1="91.25" x2="477.68" y2="100.75" stroke="#202020" stroke-width="0.95" stroke-linecap="round"/>
<line x1="477.68" y1="100.75" x2="469.45" y2="105.5" stroke="#202020" stroke-width="0.95" stroke-linecap="round"/>
<line x1="469.45" y1="105.5" x2="461.23" y2="100.75" stroke="#202020" stroke-width="0.95" stroke-linecap="round"/>
<line x1="461.23" y1="91.25" x2="469.45" y2="86.5" stroke="#202020" stroke-width="0.95" stroke-linecap="round"/>
<line x1="470" y1="88.6" x2="475.59" y2="91.83" stroke="#202020" stroke-width="0.95" />
<line x1="468.91" y1="103.4" x2="463.32" y2="100.17" stroke="#202020" stroke-width="0.95" />
<line x1="453.2" y1="77.5" x2="453" y2="86.5" stroke="#202020" stroke-width="0.95" stroke-linecap="round"/>
<line x1="461.43" y1="72.75" x2="468.83" y2="77.03" stroke="#202020" stroke-width="0.95" stroke-linecap="round"/>
<line x1="468.83" y1="77.03" x2="474.03" y2="74.03" stroke="#202020" stroke-width="0.95" stroke-linecap="round"/>
<text x="477" y="74.3" font-size="6.2" text-anchor="middle" fill="#202020" >O</text>
<text x="479.6" y="70.6" font-size="6.5" text-anchor="middle" fill="#202020" >-</text>
<line x1="468.08" y1="77.03" x2="468.08" y2="80.62" stroke="#202020" stroke-width="0.85" />
<line x1="469.58" y1="77.03" x2="469.58" y2="80.62" stroke="#202020" stroke-width="0.85" />
<text x="468.53" y="85.2" font-size="6.2" text-anchor="middle" fill="#202020" >O</text>
<line x1="428.32" y1="91.25" x2="422.72" y2="88.05" stroke="#202020" stroke-width="0.95" stroke-linecap="round"/>
<text x="419" y="87.8" font-size="5.8" text-anchor="middle" fill="#202020" >Br</text>
<line x1="428.32" y1="100.75" x2="423.32" y2="103.65" stroke="#202020" stroke-width="0.95" stroke-linecap="round"/>
<text x="420.8" y="106.8" font-size="6.2" text-anchor="middle" fill="#202020" >O</text>
<text x="418.2" y="103" font-size="6.5" text-anchor="middle" fill="#202020" >-</text>
<line x1="436.55" y1="105.5" x2="436.55" y2="109.7" stroke="#202020" stroke-width="0.95" stroke-linecap="round"/>
<text x="437.9" y="116.1" font-size="5.8" text-anchor="middle" fill="#202020" >Br</text>
<line x1="477.68" y1="91.25" x2="483.28" y2="88.05" stroke="#202020" stroke-width="0.95" stroke-linecap="round"/>
<text x="486.7" y="87.8" font-size="5.8" text-anchor="middle" fill="#202020" >Br</text>
<line x1="478.08" y1="99.95" x2="482.68" y2="102.65" stroke="#202020" stroke-width="0.85" />
<line x1="477.28" y1="101.55" x2="481.88" y2="104.25" stroke="#202020" stroke-width="0.85" />
<text x="485.6" y="106.8" font-size="6.2" text-anchor="middle" fill="#202020" >O</text>
<line x1="469.45" y1="105.5" x2="469.45" y2="109.7" stroke="#202020" stroke-width="0.95" stroke-linecap="round"/>
<text x="470.6" y="116.1" font-size="5.8" text-anchor="middle" fill="#202020" >Br</text>
<text x="453.2" y="56.7" font-size="8.0" text-anchor="middle" fill="#3333ff" >e</text>
<text x="441.1" y="64.9" font-size="8.0" text-anchor="middle" fill="#3333ff" >d</text>
<text x="464.7" y="64.5" font-size="8.0" text-anchor="middle" fill="#3333ff" >f</text>
<text x="441.1" y="75.9" font-size="8.0" text-anchor="middle" fill="#3333ff" >c</text>
<text x="436.6" y="85.7" font-size="8.0" text-anchor="middle" fill="#3333ff" >b</text>
<text x="475" y="87" font-size="8.0" text-anchor="middle" fill="#3333ff" >a</text>
<rect x="75.1" y="274.5" width="29.4" height="197" fill="#fde8c9"/>
<rect x="201" y="274.5" width="21.2" height="197" fill="#ecdefd"/>
<rect x="298.2" y="274.5" width="11.9" height="197" fill="#aedfb8"/>
<path d="M47.7,356.84 L48.2,357.13 L48.7,358.28 L49.2,358.9 L49.7,359.56 L50.2,360.13 L50.7,360.33 L51.2,360.92 L51.7,361.21 L52.2,362.05 L52.7,361.97 L53.2,362.13 L53.7,362.29 L54.2,362.32 L54.7,362.25 L55.2,362.24 L55.7,362.2 L56.2,361.93 L56.7,361.88 L57.2,361.55 L57.7,361.4 L58.2,361.43 L58.7,361.17 L59.2,360.92 L59.7,360.82 L60.2,360.77 L60.7,360.8 L61.2,360.36 L61.7,360.14 L62.2,360.03 L62.7,359.55 L63.2,359.38 L63.7,359.34 L64.2,359.19 L64.7,359.11 L65.2,359.2 L65.7,358.81 L66.2,359.32 L66.7,359.14 L67.2,359.12 L67.7,359.44 L68.2,359.58 L68.7,359.64 L69.2,359.9 L69.7,360.47 L70.2,360.93 L70.7,361.56 L71.2,361.86 L71.7,362.18 L72.2,362.7 L72.7,362.93 L73.2,363.16 L73.7,363.54 L74.2,363.56 L74.7,363.34 L75.2,363.05 L75.7,362.88 L76.2,362.22 L76.7,362.28 L77.2,361.97 L77.7,361.5 L78.2,361.54 L78.7,361.24 L79.2,361.28 L79.7,360.8 L80.2,360.81 L80.7,360.92 L81.2,360.94 L81.7,360.61 L82.2,361.03 L82.7,361.46 L83.2,361.72 L83.7,362.33 L84.2,362.26 L84.7,362.64 L85.2,362.68 L85.7,363.17 L86.2,363.18 L86.7,363.29 L87.2,363.23 L87.7,363.7 L88.2,363.56 L88.7,363.39 L89.2,363.15 L89.7,362.73 L90.2,362.27 L90.7,361.95 L91.2,361.7 L91.7,361.69 L92.2,361.06 L92.7,360.88 L93.2,360.65 L93.7,360.48 L94.2,360.34 L94.7,359.99 L95.2,359.89 L95.7,360.17 L96.2,360.49 L96.7,360.71 L97.2,360.96 L97.7,361.25 L98.2,361.67 L98.7,361.91 L99.2,362.33 L99.7,362.48 L100.2,362.95 L100.7,363.3 L101.2,363.75 L101.7,364.07 L102.2,364.66 L102.7,364.79 L103.2,364.98 L103.7,364.65 L104.2,364.81 L104.7,364.51 L105.2,364.18 L105.7,363.23 L106.2,362.93 L106.7,362.16 L107.2,361.1 L107.7,360.42 L108.2,359.81 L108.7,359.35 L109.2,358.79 L109.7,358.29 L110.2,357.36 L110.7,356.86 L111.2,356.24 L111.7,356 L112.2,355.59 L112.7,355.56 L113.2,355.45 L113.7,356.03 L114.2,356.58 L114.7,357.53 L115.2,358.1 L115.7,358.88 L116.2,359.8 L116.7,360.69 L117.2,360.97 L117.7,361.13 L118.2,361.42 L118.7,361.78 L119.2,361.62 L119.7,361.9 L120.2,362.35 L120.7,363 L121.2,363.99 L121.7,364.82 L122.2,365.48 L122.7,366.2 L123.2,366.76 L123.7,367.4 L124.2,367.85 L124.7,368.6 L125.2,369.22 L125.7,369.56 L126.2,369.87 L126.7,369.9 L127.2,369.81 L127.7,369.67 L128.2,369.21 L128.7,369.01 L129.2,369.01 L129.7,368.89 L130.2,368.95 L130.7,368.43 L131.2,368.72 L131.7,368.5 L132.2,368.5 L132.7,368.49 L133.2,368.4 L133.7,368.2 L134.2,367.81 L134.7,367.64 L135.2,367.04 L135.7,366.68 L136.2,366.44 L136.7,365.96 L137.2,366.05 L137.7,365.77 L138.2,365.79 L138.7,365.41 L139.2,365.26 L139.7,365.22 L140.2,365.2 L140.7,364.97 L141.2,365.02 L141.7,364.93 L142.2,365.1 L142.7,364.82 L143.2,365.12 L143.7,365.1 L144.2,365.29 L144.7,365.52 L145.2,365.61 L145.7,365.9 L146.2,366.14 L146.7,366.16 L147.2,366.32 L147.7,366.53 L148.2,366.42 L148.7,366.42 L149.2,366.27 L149.7,365.91 L150.2,365.92 L150.7,365.3 L151.2,365.27 L151.7,364.9 L152.2,364.8 L152.7,364.52 L153.2,364.41 L153.7,364.61 L154.2,364.61 L154.7,364.79 L155.2,364.95 L155.7,365.06 L156.2,365.14 L156.7,365.1 L157.2,365.17 L157.7,364.9 L158.2,365.08 L158.7,364.89 L159.2,365.1 L159.7,365.03 L160.2,364.51 L160.7,364.55 L161.2,364.28 L161.7,363.91 L162.2,363.87 L162.7,363.56 L163.2,363.29 L163.7,363.41 L164.2,363.37 L164.7,363.35 L165.2,363.15 L165.7,363.34 L166.2,363.33 L166.7,363.07 L167.2,363.1 L167.7,363.15 L168.2,363.06 L168.7,363.31 L169.2,363.1 L169.7,362.93 L170.2,362.94 L170.7,363.01 L171.2,363.28 L171.7,362.98 L172.2,363.03 L172.7,363.25 L173.2,363.45 L173.7,363.97 L174.2,363.74 L174.7,363.81 L175.2,363.56 L175.7,363.42 L176.2,363.07 L176.7,363.43 L177.2,363.29 L177.7,363.46 L178.2,363.53 L178.7,363.75 L179.2,364.08 L179.7,364.27 L180.2,364.31 L180.7,364.42 L181.2,364.39 L181.7,364.34 L182.2,364.47 L182.7,364.47 L183.2,364.43 L183.7,364.59 L184.2,364.78 L184.7,364.88 L185.2,365.09 L185.7,365.51 L186.2,365.93 L186.7,365.87 L187.2,365.99 L187.7,365.97 L188.2,366.06 L188.7,365.6 L189.2,365.74 L189.7,365.7 L190.2,365.33 L190.7,365.47 L191.2,365.21 L191.7,364.92 L192.2,364.84 L192.7,364.46 L193.2,364.39 L193.7,364.49 L194.2,363.98 L194.7,364.12 L195.2,363.7 L195.7,363.63 L196.2,363.31 L196.7,362.83 L197.2,362.81 L197.7,362.68 L198.2,362.24 L198.7,361.91 L199.2,361.77 L199.7,361.31 L200.2,360.87 L200.7,360.73 L201.2,360.72 L201.7,360.45 L202.2,360.63 L202.7,360.81 L203.2,360.82 L203.7,360.91 L204.2,361.14 L204.7,361.55 L205.2,361.87 L205.7,361.96 L206.2,362.06 L206.7,361.95 L207.2,362.04 L207.7,361.94 L208.2,361.96 L208.7,361.84 L209.2,361.81 L209.7,361.94 L210.2,361.88 L210.7,362.03 L211.2,362.45 L211.7,362.62 L212.2,363.2 L212.7,363.1 L213.2,362.91 L213.7,362.98 L214.2,362.76 L214.7,362.42 L215.2,362.38 L215.7,361.9 L216.2,361.37 L216.7,361.61 L217.2,361.22 L217.7,361.25 L218.2,360.76 L218.7,360.44 L219.2,360.48 L219.7,359.81 L220.2,359.4 L220.7,358.91 L221.2,358.26 L221.7,358.09 L222.2,358.12 L222.7,358.24 L223.2,358.08 L223.7,358.3 L224.2,358.35 L224.7,358.61 L225.2,358.35 L225.7,358.34 L226.2,358.62 L226.7,358.59 L227.2,358.78 L227.7,358.87 L228.2,359.09 L228.7,358.95 L229.2,359.07 L229.7,358.79 L230.2,358.65 L230.7,358.1 L231.2,356.75 L231.7,355.68 L232.2,354.68 L232.7,353.79 L233.2,352.76 L233.7,352.07 L234.2,352.41 L234.7,352.8 L235.2,353.41 L235.7,353.72 L236.2,354.21 L236.7,354.01 L237.2,353.86 L237.7,353.71 L238.2,353.68 L238.7,354.02 L239.2,354.99 L239.7,356.76 L240.2,358.3 L240.7,359.87 L241.2,361.41 L241.7,362.47 L242.2,362.76 L242.7,363.44 L243.2,363.83 L243.7,363.99 L244.2,364.16 L244.7,364.04 L245.2,364.05 L245.7,363.96 L246.2,364.22 L246.7,364.05 L247.2,363.94 L247.7,363.8 L248.2,363.9 L248.7,364.05 L249.2,363.87 L249.7,363.67 L250.2,363.87 L250.7,363.8 L251.2,363.64 L251.7,363.39 L252.2,363.13 L252.7,362.75 L253.2,362.52 L253.7,362.21 L254.2,362.48 L254.7,362.33 L255.2,362.54 L255.7,362.05 L256.2,362.36 L256.7,362.18 L257.2,361.65 L257.7,361.3 L258.2,360.91 L258.7,360.56 L259.2,360.24 L259.7,360.15 L260.2,360.18 L260.7,360.12 L261.2,359.9 L261.7,359.81 L262.2,359.72 L262.7,359.71 L263.2,359.31 L263.7,359.08 L264.2,359.01 L264.7,358.56 L265.2,358.28 L265.7,357.96 L266.2,357.56 L266.7,356.74 L267.2,356.08 L267.7,354.77 L268.2,354.07 L268.7,352.98 L269.2,352.46 L269.7,352.29 L270.2,351.84 L270.7,351.51 L271.2,351.29 L271.7,351.19 L272.2,350.98 L272.7,350.85 L273.2,350.83 L273.7,350.42 L274.2,350.14 L274.7,348.85 L275.2,346.45 L275.7,343.28 L276.2,340.39 L276.7,337.95 L277.2,335.52 L277.7,333.41 L278.2,331.7 L278.7,331.42 L279.2,332.01 L279.7,332.92 L280.2,334.07 L280.7,334.67 L281.2,334.79 L281.7,334.46 L282.2,333.49 L282.7,330.66 L283.2,324.59 L283.7,318.08 L284.2,312.16 L284.7,308.97 L285.2,309.96 L285.7,312.64 L286.2,316.92 L286.7,321.33 L287.2,327.5 L287.7,335.6 L288.2,342.93 L288.7,347.37 L289.2,349.14 L289.7,350.68 L290.2,351.62 L290.7,352.3 L291.2,353.14 L291.7,353.89 L292.2,354.62 L292.7,355.44 L293.2,356.04 L293.7,356.82 L294.2,357.33 L294.7,357.75 L295.2,358.25 L295.7,358.68 L296.2,358.98 L296.7,359.1 L297.2,359.65 L297.7,359.82 L298.2,360.19 L298.7,360.16 L299.2,360.33 L299.7,360.42 L300.2,360.67 L300.7,360.58 L301.2,360.61 L301.7,360.76 L302.2,360.77 L302.7,360.94 L303.2,361.03 L303.7,361.19 L304.2,361.51 L304.7,361.35 L305.2,361.52 L305.7,361.61 L306.2,361.83 L306.7,361.7 L307.2,361.85 L307.7,362.02 L308.2,362.17 L308.7,362.18 L309.2,362.21 L309.7,362.24 L310.2,362.49 L310.7,362.67 L311.2,362.61 L311.7,362.65 L312.2,362.75 L312.7,362.64 L313.2,362.77 L313.7,362.82 L314.2,362.94" fill="none" stroke="#ff1a1a" stroke-width="1.15" stroke-linejoin="round" />
<path d="M47.7,428.52 L48.2,429.19 L48.7,429.98 L49.2,430.4 L49.7,430.6 L50.2,431.22 L50.7,431.49 L51.2,431.91 L51.7,432.02 L52.2,432.54 L52.7,432.8 L53.2,433.17 L53.7,433.17 L54.2,433.26 L54.7,432.71 L55.2,432.12 L55.7,430.24 L56.2,429.3 L56.7,428.26 L57.2,427.45 L57.7,426.81 L58.2,426.27 L58.7,426.05 L59.2,425.77 L59.7,425.76 L60.2,425.2 L60.7,425.29 L61.2,425.11 L61.7,425.3 L62.2,425.3 L62.7,426.14 L63.2,426.89 L63.7,427.17 L64.2,427.64 L64.7,427.65 L65.2,427.92 L65.7,428.6 L66.2,429.55 L66.7,430.7 L67.2,431.85 L67.7,433.09 L68.2,433.95 L68.7,433.98 L69.2,432.96 L69.7,431.28 L70.2,430.07 L70.7,429.99 L71.2,430.08 L71.7,430.45 L72.2,430.22 L72.7,430.26 L73.2,430.28 L73.7,429.95 L74.2,429.78 L74.7,428.32 L75.2,424.03 L75.7,422.87 L76.2,425.81 L76.7,428.23 L77.2,428.59 L77.7,428.46 L78.2,428.05 L78.7,427.55 L79.2,426.74 L79.7,424.87 L80.2,419.02 L80.7,411.38 L81.2,405.54 L81.7,403.49 L82.2,405.81 L82.7,410.37 L83.2,413.98 L83.7,416.99 L84.2,420.43 L84.7,422.86 L85.2,425.08 L85.7,426.65 L86.2,428.34 L86.7,429.55 L87.2,430.62 L87.7,431.52 L88.2,432.27 L88.7,432.96 L89.2,433.62 L89.7,433.5 L90.2,433.82 L90.7,433.54 L91.2,433.43 L91.7,433.11 L92.2,433.03 L92.7,433.38 L93.2,433.88 L93.7,433.85 L94.2,432.53 L94.7,431.04 L95.2,429.32 L95.7,428.17 L96.2,427.12 L96.7,425.29 L97.2,420.81 L97.7,415.16 L98.2,411.22 L98.7,411.49 L99.2,414.19 L99.7,417.76 L100.2,422.02 L100.7,427.21 L101.2,431.2 L101.7,432.25 L102.2,433.39 L102.7,433.84 L103.2,434.42 L103.7,435.12 L104.2,435.72 L104.7,436.32 L105.2,437.01 L105.7,437.22 L106.2,437.18 L106.7,437.14 L107.2,436.44 L107.7,436.25 L108.2,435.37 L108.7,434.75 L109.2,434.44 L109.7,433.75 L110.2,432.73 L110.7,432 L111.2,431.32 L111.7,430.78 L112.2,430.14 L112.7,430.02 L113.2,430.45 L113.7,431.06 L114.2,432.02 L114.7,432.83 L115.2,433.21 L115.7,433.84 L116.2,434.12 L116.7,434.66 L117.2,434.63 L117.7,433.79 L118.2,433.88 L118.7,434.8 L119.2,436.29 L119.7,437.71 L120.2,438.2 L120.7,438.25 L121.2,438.43 L121.7,438.55 L122.2,438.72 L122.7,438.84 L123.2,438.8 L123.7,439.18 L124.2,439.18 L124.7,439.46 L125.2,439.69 L125.7,439.78 L126.2,439.85 L126.7,439.97 L127.2,439.93 L127.7,439.97 L128.2,440.07 L128.7,440.25 L129.2,440.17 L129.7,440.47 L130.2,440.33 L130.7,440.02 L131.2,440.42 L131.7,440.77 L132.2,440.68 L132.7,440.73 L133.2,440.77 L133.7,441.1 L134.2,441.11 L134.7,441.08 L135.2,440.98 L135.7,440.94 L136.2,440.65 L136.7,440.15 L137.2,440.14 L137.7,439.84 L138.2,439.62 L138.7,439.61 L139.2,439.51 L139.7,439.2 L140.2,439.83 L140.7,439.9 L141.2,439.9 L141.7,440.03 L142.2,440.25 L142.7,440.2 L143.2,440.5 L143.7,440.52 L144.2,440.58 L144.7,440.59 L145.2,440.69 L145.7,440.97 L146.2,441.06 L146.7,441.01 L147.2,440.98 L147.7,440.89 L148.2,441.06 L148.7,441.01 L149.2,440.38 L149.7,440.46 L150.2,439.85 L150.7,439.96 L151.2,440.06 L151.7,439.88 L152.2,439.91 L152.7,440.18 L153.2,440.32 L153.7,440.21 L154.2,440.46 L154.7,440.19 L155.2,440.32 L155.7,439.79 L156.2,439.35 L156.7,438.87 L157.2,437.71 L157.7,436.06 L158.2,434.26 L158.7,432.89 L159.2,433.11 L159.7,434.8 L160.2,436.4 L160.7,436.8 L161.2,436.94 L161.7,437.06 L162.2,437.19 L162.7,437.45 L163.2,437.51 L163.7,437.89 L164.2,438.51 L164.7,438.82 L165.2,438.94 L165.7,439.39 L166.2,439.37 L166.7,439.65 L167.2,439.66 L167.7,440.16 L168.2,440.19 L168.7,440.41 L169.2,440.38 L169.7,440.01 L170.2,439.45 L170.7,438.89 L171.2,438.08 L171.7,437.66 L172.2,437.66 L172.7,438.26 L173.2,439.09 L173.7,440.08 L174.2,440.49 L174.7,441.12 L175.2,441.34 L175.7,441.85 L176.2,442 L176.7,442.21 L177.2,442.04 L177.7,441.85 L178.2,441.89 L178.7,441.76 L179.2,441.57 L179.7,441.45 L180.2,441.23 L180.7,441.42 L181.2,440.76 L181.7,440.5 L182.2,439.91 L182.7,439.67 L183.2,439.69 L183.7,439.9 L184.2,440.52 L184.7,440.93 L185.2,441.69 L185.7,442.15 L186.2,441.84 L186.7,441.77 L187.2,441.12 L187.7,440.83 L188.2,440.49 L188.7,440.34 L189.2,439.73 L189.7,439.53 L190.2,439.4 L190.7,438.99 L191.2,439.16 L191.7,439.63 L192.2,440.57 L192.7,441.69 L193.2,442.36 L193.7,442.71 L194.2,442.52 L194.7,442.43 L195.2,442.13 L195.7,441.98 L196.2,441.87 L196.7,441.42 L197.2,441.73 L197.7,441.3 L198.2,441.11 L198.7,441.04 L199.2,441.07 L199.7,440.97 L200.2,440.62 L200.7,440.54 L201.2,440.28 L201.7,439.94 L202.2,439.82 L202.7,439.51 L203.2,438.88 L203.7,438.56 L204.2,437.43 L204.7,436.68 L205.2,435.46 L205.7,434.34 L206.2,433.16 L206.7,431.96 L207.2,429.96 L207.7,428.1 L208.2,426.29 L208.7,424.15 L209.2,422.7 L209.7,421.4 L210.2,419.87 L210.7,418.86 L211.2,418.09 L211.7,418.33 L212.2,419.01 L212.7,420.09 L213.2,421.77 L213.7,422.96 L214.2,424.6 L214.7,426.52 L215.2,428.67 L215.7,430.69 L216.2,432.33 L216.7,433.52 L217.2,434.17 L217.7,435.16 L218.2,436.09 L218.7,436.54 L219.2,436.89 L219.7,437.09 L220.2,436.92 L220.7,436.9 L221.2,436.78 L221.7,436.93 L222.2,436.76 L222.7,436.41 L223.2,436.2 L223.7,435.44 L224.2,435.03 L224.7,434.21 L225.2,433.33 L225.7,432.56 L226.2,431.71 L226.7,431.2 L227.2,430.21 L227.7,429.34 L228.2,428.79 L228.7,428.26 L229.2,428.25 L229.7,428.34 L230.2,428.42 L230.7,429.07 L231.2,428.96 L231.7,429.11 L232.2,429.38 L232.7,428.87 L233.2,427.67 L233.7,424.79 L234.2,421.69 L234.7,419.16 L235.2,415.67 L235.7,412.84 L236.2,410.62 L236.7,409.33 L237.2,410.18 L237.7,412.14 L238.2,414.32 L238.7,416.05 L239.2,416.93 L239.7,416.86 L240.2,416.51 L240.7,416.42 L241.2,415.98 L241.7,415.56 L242.2,415.19 L242.7,415.12 L243.2,414.32 L243.7,413.94 L244.2,413.14 L244.7,413.3 L245.2,413.68 L245.7,413.95 L246.2,414.09 L246.7,412.67 L247.2,410.29 L247.7,408.21 L248.2,407.51 L248.7,407.09 L249.2,406.44 L249.7,406.25 L250.2,406.2 L250.7,406.93 L251.2,407.85 L251.7,409.2 L252.2,411.18 L252.7,413.95 L253.2,416.89 L253.7,419.2 L254.2,422.22 L254.7,424.71 L255.2,427.35 L255.7,428.82 L256.2,430.12 L256.7,431.2 L257.2,432.34 L257.7,433.08 L258.2,434.07 L258.7,435.11 L259.2,436.38 L259.7,437.2 L260.2,437.96 L260.7,438.41 L261.2,438.79 L261.7,438.89 L262.2,439.26 L262.7,439.53 L263.2,439.2 L263.7,439.5 L264.2,439.42 L264.7,438.84 L265.2,438.71 L265.7,438.21 L266.2,438.06 L266.7,437.59 L267.2,437.35 L267.7,437.08 L268.2,437.18 L268.7,437.47 L269.2,437.74 L269.7,438.06 L270.2,438.35 L270.7,438.5 L271.2,438.89 L271.7,439.2 L272.2,439.04 L272.7,439.41 L273.2,439.22 L273.7,438.99 L274.2,438.72 L274.7,438.52 L275.2,438.2 L275.7,437.91 L276.2,437.21 L276.7,436.87 L277.2,435.66 L277.7,434.53 L278.2,433.19 L278.7,431.65 L279.2,430.81 L279.7,429.73 L280.2,428.31 L280.7,427.67 L281.2,427.37 L281.7,427.44 L282.2,427.48 L282.7,427.52 L283.2,427.74 L283.7,427.8 L284.2,427.67 L284.7,427.76 L285.2,427.54 L285.7,427.26 L286.2,426.79 L286.7,426.72 L287.2,425.46 L287.7,423.05 L288.2,420.83 L288.7,417.91 L289.2,413.66 L289.7,408.95 L290.2,404.82 L290.7,402.89 L291.2,403.53 L291.7,405.28 L292.2,407.69 L292.7,409.98 L293.2,412.79 L293.7,415.63 L294.2,418.25 L294.7,420.77 L295.2,423.4 L295.7,425.81 L296.2,427.92 L296.7,429.85 L297.2,431.38 L297.7,432.89 L298.2,434.24 L298.7,434.86 L299.2,434.82 L299.7,434.76 L300.2,434.37 L300.7,434.1 L301.2,433.76 L301.7,433.29 L302.2,433.05 L302.7,432.59 L303.2,432.53 L303.7,432.57 L304.2,433.2 L304.7,433.81 L305.2,434.58 L305.7,435.35 L306.2,436.07 L306.7,436.59 L307.2,437.15 L307.7,437.88 L308.2,438.33 L308.7,438.7 L309.2,439.25 L309.7,439.67 L310.2,439.98 L310.7,440.43 L311.2,440.23 L311.7,440.16 L312.2,440.13 L312.7,439.69 L313.2,439.26 L313.7,438.81 L314.2,438.36" fill="none" stroke="#1a1a1a" stroke-width="1.15" stroke-linejoin="round" />
<rect x="47.5" y="274.5" width="267" height="197" fill="none" stroke="#222" stroke-width="1.15"/>
<line x1="71.77" y1="471.5" x2="71.77" y2="475.7" stroke="#222" stroke-width="1.15" />
<text x="71.77" y="487.8" font-size="11.5" text-anchor="middle" fill="#1a1a1a" >600</text>
<line x1="120.32" y1="471.5" x2="120.32" y2="475.7" stroke="#222" stroke-width="1.15" />
<text x="120.32" y="487.8" font-size="11.5" text-anchor="middle" fill="#1a1a1a" >800</text>
<line x1="168.86" y1="471.5" x2="168.86" y2="475.7" stroke="#222" stroke-width="1.15" />
<text x="168.86" y="487.8" font-size="11.5" text-anchor="middle" fill="#1a1a1a" >1000</text>
<line x1="217.41" y1="471.5" x2="217.41" y2="475.7" stroke="#222" stroke-width="1.15" />
<text x="217.41" y="487.8" font-size="11.5" text-anchor="middle" fill="#1a1a1a" >1200</text>
<line x1="265.95" y1="471.5" x2="265.95" y2="475.7" stroke="#222" stroke-width="1.15" />
<text x="265.95" y="487.8" font-size="11.5" text-anchor="middle" fill="#1a1a1a" >1400</text>
<line x1="314.5" y1="471.5" x2="314.5" y2="475.7" stroke="#222" stroke-width="1.15" />
<text x="314.5" y="487.8" font-size="11.5" text-anchor="middle" fill="#1a1a1a" >1600</text>
<line x1="47.5" y1="471.5" x2="47.5" y2="474.1" stroke="#222" stroke-width="1.15" />
<line x1="96.05" y1="471.5" x2="96.05" y2="474.1" stroke="#222" stroke-width="1.15" />
<line x1="144.59" y1="471.5" x2="144.59" y2="474.1" stroke="#222" stroke-width="1.15" />
<line x1="193.14" y1="471.5" x2="193.14" y2="474.1" stroke="#222" stroke-width="1.15" />
<line x1="241.68" y1="471.5" x2="241.68" y2="474.1" stroke="#222" stroke-width="1.15" />
<line x1="290.23" y1="471.5" x2="290.23" y2="474.1" stroke="#222" stroke-width="1.15" />
<text x="189.2" y="509.7" font-size="13.7" text-anchor="middle" fill="#1a1a1a" >Raman shift (cm<tspan font-size="8.5" dy="-5.5">-1</tspan><tspan dy="5.5">)</tspan></text>
<text x="0" y="0" font-size="13.7" text-anchor="middle" fill="#1a1a1a" transform="translate(11.5,380.8) rotate(-90)">Intensity (arb. units)</text>
<text x="1.8" y="286.6" font-size="13.6" text-anchor="start" fill="#000" font-weight="bold">c</text>
<rect x="53.3" y="281.3" width="74.4" height="31.7" fill="#fff" stroke="#222" stroke-width="1.1"/>
<line x1="57.9" y1="290.5" x2="69.9" y2="290.5" stroke="#ff1a1a" stroke-width="1.2" />
<text x="72.6" y="295.2" font-size="10.9" text-anchor="start" fill="#1a1a1a" >EY/MMOH</text>
<line x1="57.9" y1="305.4" x2="69.9" y2="305.4" stroke="#1a1a1a" stroke-width="1.2" />
<text x="72.6" y="309.8" font-size="10.9" text-anchor="start" fill="#1a1a1a" >EY</text>
<line x1="91" y1="374" x2="99.83" y2="379.1" stroke="#2a2a2a" stroke-width="1.0" />
<line x1="99.83" y1="379.1" x2="99.83" y2="389.3" stroke="#2a2a2a" stroke-width="1.0" />
<line x1="99.83" y1="389.3" x2="91" y2="394.4" stroke="#2a2a2a" stroke-width="1.0" />
<line x1="91" y1="394.4" x2="82.17" y2="389.3" stroke="#2a2a2a" stroke-width="1.0" />
<line x1="82.17" y1="389.3" x2="82.17" y2="379.1" stroke="#2a2a2a" stroke-width="1.0" />
<line x1="82.17" y1="379.1" x2="91" y2="374" stroke="#2a2a2a" stroke-width="1.0" />
<line x1="91.55" y1="376.51" x2="97.38" y2="379.88" stroke="#2a2a2a" stroke-width="1.0" />
<line x1="97.38" y1="388.52" x2="91.55" y2="391.89" stroke="#2a2a2a" stroke-width="1.0" />
<line x1="84.07" y1="387.57" x2="84.07" y2="380.83" stroke="#2a2a2a" stroke-width="1.0" />
<line x1="91" y1="373.5" x2="91" y2="368.5" stroke="#ff1a1a" stroke-width="1.2" />
<path d="M89.3,368.8 L91,365.7 L92.7,368.8 Z" fill="#ff1a1a"/>
<line x1="81.77" y1="389.5" x2="77.87" y2="391.8" stroke="#ff1a1a" stroke-width="1.2" />
<path d="M78.78,393.26 L75.25,393.36 L77.06,390.32 Z" fill="#ff1a1a"/>
<line x1="100.23" y1="389.5" x2="104.13" y2="391.8" stroke="#ff1a1a" stroke-width="1.2" />
<path d="M104.94,390.32 L106.75,393.36 L103.22,393.26 Z" fill="#ff1a1a"/>
<path d="M81.3,400.2 V396.6 H99.6 V400.2" fill="none" stroke="#2a2a2a" stroke-width="1.1"/>
<text x="209.4" y="412.2" font-size="10.8" text-anchor="middle" fill="#1a1a1a" >ν(C-O)</text>
<text x="273.2" y="390.8" font-size="10.8" text-anchor="middle" fill="#1a1a1a" >ν(C=O)</text>
<line x1="294.3" y1="388.1" x2="301.3" y2="394.9" stroke="#111" stroke-width="1.0" />
<path d="M299.2,395.6 L303.6,397.4 L301.8,393.0 Z" fill="#111"/>
<rect x="411.7" y="278.5" width="267.3" height="196.8" fill="none" stroke="#222" stroke-width="1.15"/>
<line x1="411.7" y1="475.3" x2="411.7" y2="479.5" stroke="#222" stroke-width="1.15" />
<text x="411.7" y="491.3" font-size="11.5" text-anchor="middle" fill="#1a1a1a" >0</text>
<line x1="465.16" y1="475.3" x2="465.16" y2="479.5" stroke="#222" stroke-width="1.15" />
<text x="465.16" y="491.3" font-size="11.5" text-anchor="middle" fill="#1a1a1a" >3</text>
<line x1="518.62" y1="475.3" x2="518.62" y2="479.5" stroke="#222" stroke-width="1.15" />
<text x="518.62" y="491.3" font-size="11.5" text-anchor="middle" fill="#1a1a1a" >6</text>
<line x1="572.08" y1="475.3" x2="572.08" y2="479.5" stroke="#222" stroke-width="1.15" />
<text x="572.08" y="491.3" font-size="11.5" text-anchor="middle" fill="#1a1a1a" >9</text>
<line x1="625.54" y1="475.3" x2="625.54" y2="479.5" stroke="#222" stroke-width="1.15" />
<text x="625.54" y="491.3" font-size="11.5" text-anchor="middle" fill="#1a1a1a" >12</text>
<line x1="679" y1="475.3" x2="679" y2="479.5" stroke="#222" stroke-width="1.15" />
<text x="679" y="491.3" font-size="11.5" text-anchor="middle" fill="#1a1a1a" >15</text>
<line x1="438.43" y1="475.3" x2="438.43" y2="477.9" stroke="#222" stroke-width="1.15" />
<line x1="491.89" y1="475.3" x2="491.89" y2="477.9" stroke="#222" stroke-width="1.15" />
<line x1="545.35" y1="475.3" x2="545.35" y2="477.9" stroke="#222" stroke-width="1.15" />
<line x1="598.81" y1="475.3" x2="598.81" y2="477.9" stroke="#222" stroke-width="1.15" />
<line x1="652.27" y1="475.3" x2="652.27" y2="477.9" stroke="#222" stroke-width="1.15" />
<line x1="407.3" y1="472.1" x2="411.7" y2="472.1" stroke="#222" stroke-width="1.15" />
<text x="405.1" y="475.6" font-size="11.5" text-anchor="end" fill="#1a1a1a" >0.00</text>
<line x1="407.3" y1="442.3" x2="411.7" y2="442.3" stroke="#222" stroke-width="1.15" />
<text x="405.1" y="445.8" font-size="11.5" text-anchor="end" fill="#1a1a1a" >0.05</text>
<line x1="407.3" y1="412.5" x2="411.7" y2="412.5" stroke="#222" stroke-width="1.15" />
<text x="405.1" y="416" font-size="11.5" text-anchor="end" fill="#1a1a1a" >0.10</text>
<line x1="407.3" y1="382.7" x2="411.7" y2="382.7" stroke="#222" stroke-width="1.15" />
<text x="405.1" y="386.2" font-size="11.5" text-anchor="end" fill="#1a1a1a" >0.15</text>
<line x1="407.3" y1="352.9" x2="411.7" y2="352.9" stroke="#222" stroke-width="1.15" />
<text x="405.1" y="356.4" font-size="11.5" text-anchor="end" fill="#1a1a1a" >0.20</text>
<line x1="407.3" y1="323.1" x2="411.7" y2="323.1" stroke="#222" stroke-width="1.15" />
<text x="405.1" y="326.6" font-size="11.5" text-anchor="end" fill="#1a1a1a" >0.25</text>
<line x1="407.3" y1="293.3" x2="411.7" y2="293.3" stroke="#222" stroke-width="1.15" />
<text x="405.1" y="296.8" font-size="11.5" text-anchor="end" fill="#1a1a1a" >0.30</text>
<line x1="409.1" y1="457.2" x2="411.7" y2="457.2" stroke="#222" stroke-width="1.15" />
<line x1="409.1" y1="427.4" x2="411.7" y2="427.4" stroke="#222" stroke-width="1.15" />
<line x1="409.1" y1="397.6" x2="411.7" y2="397.6" stroke="#222" stroke-width="1.15" />
<line x1="409.1" y1="367.8" x2="411.7" y2="367.8" stroke="#222" stroke-width="1.15" />
<line x1="409.1" y1="338" x2="411.7" y2="338" stroke="#222" stroke-width="1.15" />
<line x1="409.1" y1="308.2" x2="411.7" y2="308.2" stroke="#222" stroke-width="1.15" />
<circle cx="411.8" cy="472.1" r="3.6" fill="#ff0808"/>
<circle cx="465.1" cy="430.3" r="3.6" fill="#ff0808"/>
<circle cx="518.7" cy="397" r="3.6" fill="#ff0808"/>
<circle cx="572.2" cy="374" r="3.6" fill="#ff0808"/>
<circle cx="625.5" cy="326.1" r="3.6" fill="#ff0808"/>
<circle cx="679" cy="294.7" r="3.6" fill="#ff0808"/>
<circle cx="411.8" cy="472.1" r="3.6" fill="#ff8208"/>
<circle cx="465.1" cy="456.9" r="3.6" fill="#ff8208"/>
<circle cx="518.7" cy="438.6" r="3.6" fill="#ff8208"/>
<circle cx="572" cy="420.3" r="3.6" fill="#ff8208"/>
<circle cx="625.5" cy="402" r="3.6" fill="#ff8208"/>
<circle cx="679" cy="383.7" r="3.6" fill="#ff8208"/>
<circle cx="411.6" cy="472.4" r="3.6" fill="#0808ff"/>
<circle cx="465.1" cy="476" r="3.6" fill="#0808ff"/>
<circle cx="518.7" cy="474.4" r="3.6" fill="#0808ff"/>
<circle cx="571.8" cy="471.1" r="3.6" fill="#0808ff"/>
<circle cx="625.6" cy="470.4" r="3.6" fill="#0808ff"/>
<circle cx="679" cy="472.4" r="3.6" fill="#0808ff"/>
<line x1="411.7" y1="470" x2="679" y2="295.7" stroke="#1a1a1a" stroke-width="1.1" />
<line x1="411.7" y1="473.3" x2="679" y2="384.4" stroke="#1a1a1a" stroke-width="1.1" />
<circle cx="424.5" cy="293.5" r="3.6" fill="#ff0808"/>
<text x="433.2" y="297.3" font-size="10.6" text-anchor="start" fill="#1a1a1a" >MMOH</text>
<circle cx="424.5" cy="308.2" r="3.6" fill="#ff8208"/>
<text x="433.2" y="312" font-size="10.6" text-anchor="start" fill="#1a1a1a" >MMOR</text>
<circle cx="424.5" cy="322.6" r="3.6" fill="#0808ff"/>
<text x="433.2" y="326.4" font-size="10.6" text-anchor="start" fill="#1a1a1a" >MMOB</text>
<text x="545.5" y="511.2" font-size="13.7" text-anchor="middle" fill="#1a1a1a" >Protein concentration (μM)</text>
<text x="0" y="0" font-size="13.7" text-anchor="middle" fill="#1a1a1a" transform="translate(372.3,377.8) rotate(-90)">(F<tspan font-size="8" dy="3">0</tspan><tspan dy="-3">/F)-1</tspan></text>
<text x="361.3" y="288.3" font-size="13.6" text-anchor="start" fill="#000" font-weight="bold">d</text>
<text x="0" y="0" font-size="10.8" text-anchor="start" fill="#ff1a1a" transform="translate(526.6,383.6) rotate(-33)"><tspan font-style="italic">K</tspan><tspan font-size="8" dy="2.5">sv</tspan><tspan dy="-2.5"> = 1.95 x 10</tspan><tspan font-size="7" dy="-4">4</tspan><tspan dy="4"> M</tspan><tspan font-size="7" dy="-4">-1</tspan></text>
<text x="0" y="0" font-size="10.9" text-anchor="start" fill="#1e9a1e" transform="translate(538.6,419.9) rotate(-17.6)"><tspan font-style="italic">K</tspan><tspan font-size="8" dy="2.5">sv</tspan><tspan dy="-2.5"> = 9.98 x 10</tspan><tspan font-size="7" dy="-4">3</tspan><tspan dy="4"> M</tspan><tspan font-size="7" dy="-4">-1</tspan></text>
</svg>
</body></html>
